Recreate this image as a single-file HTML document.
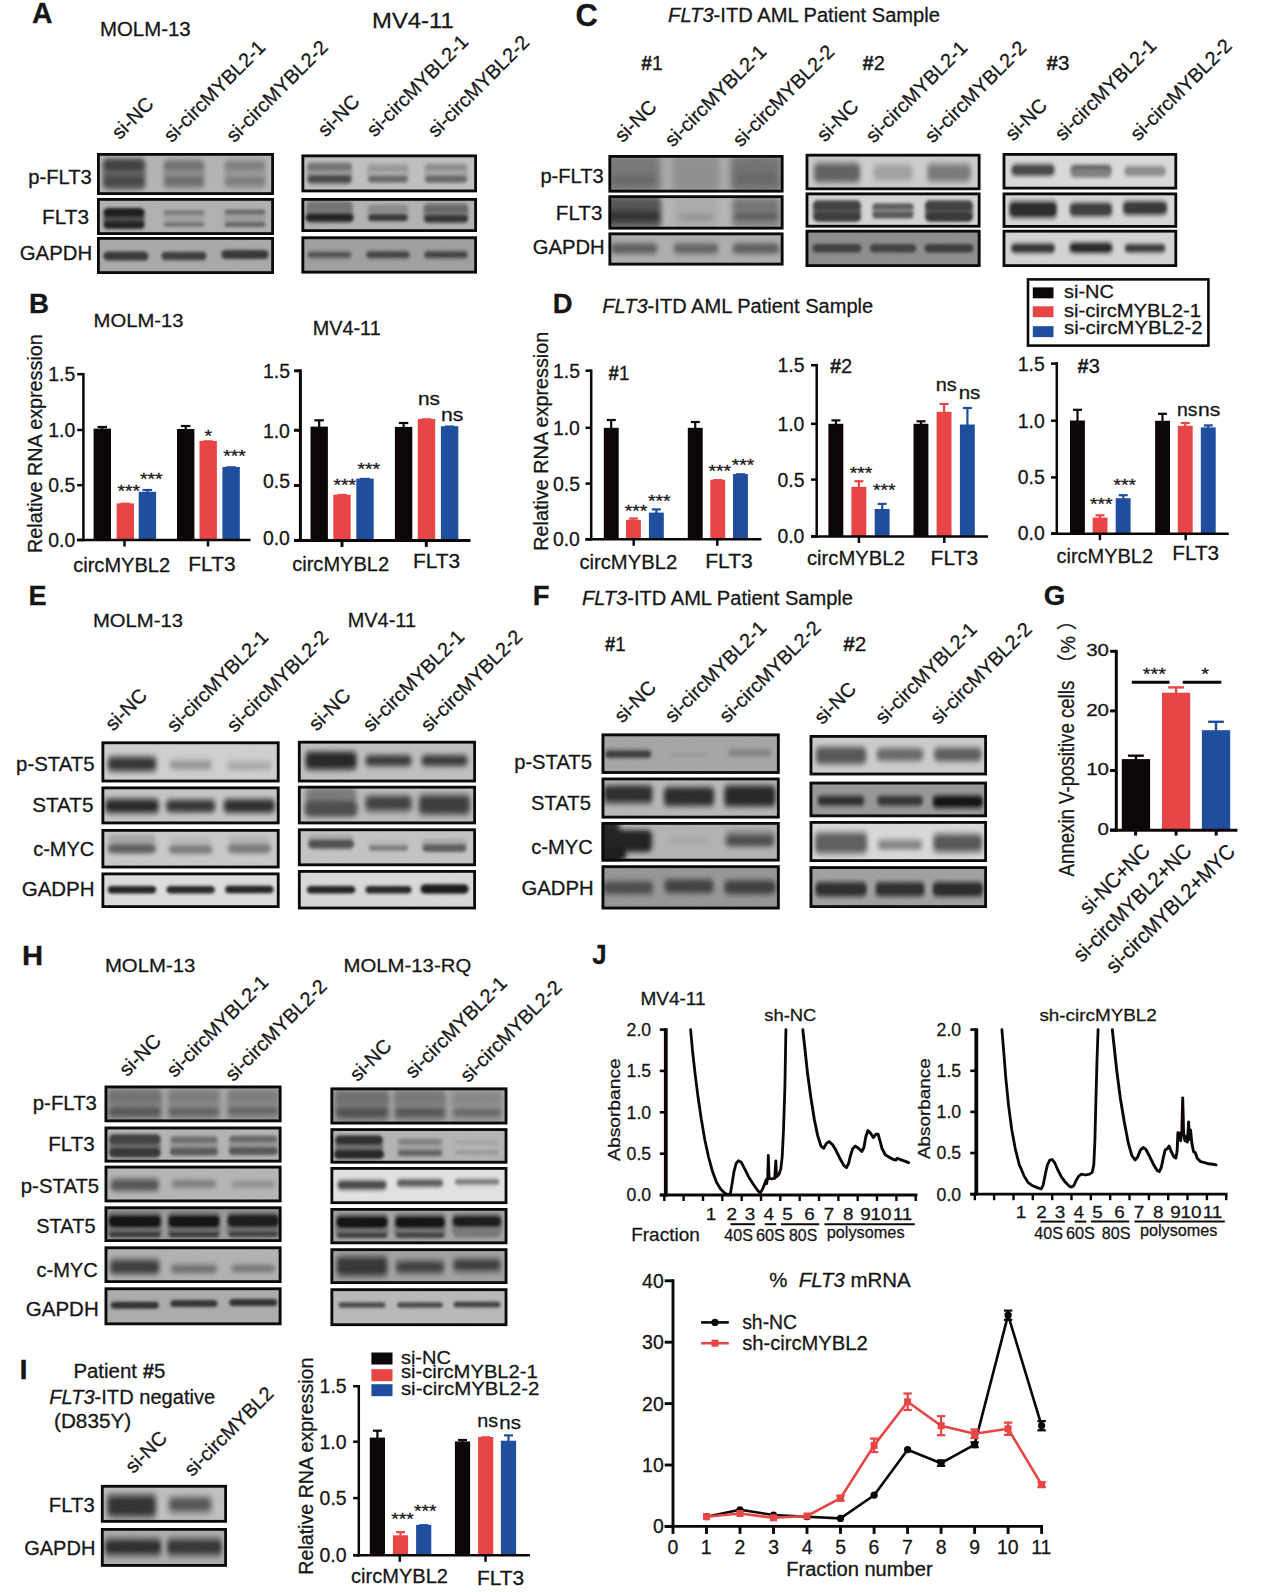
<!DOCTYPE html>
<html lang="en"><head><meta charset="utf-8"><title>Figure</title>
<style>html,body{margin:0;padding:0;background:#fff}svg{display:block}text{stroke:#161616;stroke-width:.28px;stroke-linejoin:round}</style>
</head><body>
<svg width="1269" height="1592" viewBox="0 0 1269 1592" font-family="'Liberation Sans', sans-serif" fill="#161616">
<defs>
<filter id="b1" x="-20%" y="-50%" width="140%" height="200%"><feGaussianBlur stdDeviation="1"/></filter>
<filter id="b1_3" x="-20%" y="-50%" width="140%" height="200%"><feGaussianBlur stdDeviation="1.3"/></filter>
<filter id="b1_6" x="-20%" y="-50%" width="140%" height="200%"><feGaussianBlur stdDeviation="1.6"/></filter>
<filter id="b2" x="-20%" y="-50%" width="140%" height="200%"><feGaussianBlur stdDeviation="2"/></filter>
<filter id="b2_5" x="-20%" y="-50%" width="140%" height="200%"><feGaussianBlur stdDeviation="2.5"/></filter>
<filter id="b3" x="-20%" y="-50%" width="140%" height="200%"><feGaussianBlur stdDeviation="3"/></filter>
<filter id="nz" x="0" y="0" width="100%" height="100%"><feTurbulence type="fractalNoise" baseFrequency="0.9" numOctaves="2" seed="3"/><feColorMatrix type="saturate" values="0"/></filter>
<filter id="soft" x="-5%" y="-5%" width="110%" height="110%"><feGaussianBlur stdDeviation="0.35"/></filter>
</defs>
<rect width="1269" height="1592" fill="#ffffff"/>
<text x="32.1" y="23.3" font-size="28.8" font-weight="bold" textLength="20.5" lengthAdjust="spacingAndGlyphs">A</text>
<text x="100.0" y="35.5" font-size="19.3" textLength="90.7" lengthAdjust="spacingAndGlyphs">MOLM-13</text>
<text x="372.1" y="28.4" font-size="22" textLength="81.7" lengthAdjust="spacingAndGlyphs">MV4-11</text>
<text transform="translate(119.8 140.2) rotate(-45)" font-size="19.8">si-NC</text>
<text transform="translate(171.8 143.2) rotate(-45)" font-size="19.8">si-circMYBL2-1</text>
<text transform="translate(234.3 143.2) rotate(-45)" font-size="19.8">si-circMYBL2-2</text>
<text transform="translate(325.8 137.7) rotate(-45)" font-size="19.8">si-NC</text>
<text transform="translate(374.8 137.7) rotate(-45)" font-size="19.8">si-circMYBL2-1</text>
<text transform="translate(435.8 138.2) rotate(-45)" font-size="19.8">si-circMYBL2-2</text>
<text x="28.3" y="184.4" font-size="19.8" textLength="63.5" lengthAdjust="spacingAndGlyphs">p-FLT3</text>
<text x="42.0" y="223.6" font-size="19.8" textLength="47.0" lengthAdjust="spacingAndGlyphs">FLT3</text>
<text x="19.8" y="260.0" font-size="19.8" textLength="72.3" lengthAdjust="spacingAndGlyphs">GAPDH</text>
<clipPath id="c1"><rect x="97.0" y="153.0" width="177.0" height="42.0"/></clipPath>
<rect x="97.0" y="153.0" width="177.0" height="42.0" fill="#b4b4b4"/>
<g clip-path="url(#c1)"><g filter="url(#b2)">
<rect x="102.5" y="158.0" width="43.1" height="32.0" rx="5.0" fill="#5f5f5f"/>
<rect x="103.5" y="160.0" width="41.0" height="11.0" rx="5.0" fill="#3e3e3e"/>
<rect x="103.5" y="176.0" width="41.0" height="10.0" rx="5.0" fill="#424242"/>
<rect x="163.5" y="159.0" width="41.0" height="30.0" rx="5.0" fill="#8c8c8c"/>
<rect x="163.5" y="161.5" width="41.0" height="9.0" rx="4.5" fill="#707070"/>
<rect x="163.5" y="176.5" width="41.0" height="9.0" rx="4.5" fill="#696969"/>
<rect x="224.5" y="159.0" width="41.0" height="30.0" rx="5.0" fill="#969696"/>
<rect x="224.5" y="162.0" width="41.0" height="8.0" rx="4.0" fill="#7d7d7d"/>
<rect x="224.5" y="177.0" width="41.0" height="8.0" rx="4.0" fill="#7a7a7a"/>
</g>
<rect x="97.0" y="153.0" width="177.0" height="42.0" filter="url(#nz)" opacity="0.10"/>
</g>
<rect x="98.4" y="154.4" width="174.2" height="39.2" fill="none" stroke="#0a0a0a" stroke-width="2.8"/>
<clipPath id="c2"><rect x="97.0" y="198.0" width="177.0" height="37.0"/></clipPath>
<rect x="97.0" y="198.0" width="177.0" height="37.0" fill="#b0b0b0"/>
<g clip-path="url(#c2)"><g filter="url(#b1_6)">
<rect x="103.5" y="208.0" width="41.0" height="20.0" rx="5.0" fill="#464646"/>
<rect x="103.5" y="208.0" width="41.0" height="9.0" rx="4.5" fill="#161616"/>
<rect x="103.5" y="221.0" width="41.0" height="8.0" rx="4.0" fill="#1c1c1c"/>
<rect x="163.5" y="211.0" width="41.0" height="14.0" rx="5.0" fill="#a0a0a0"/>
<rect x="163.5" y="210.2" width="41.0" height="4.5" rx="2.2" fill="#767676"/>
<rect x="163.5" y="222.2" width="41.0" height="4.5" rx="2.2" fill="#707070"/>
<rect x="224.5" y="211.0" width="41.0" height="14.0" rx="5.0" fill="#9b9b9b"/>
<rect x="224.5" y="209.5" width="41.0" height="5.0" rx="2.5" fill="#666666"/>
<rect x="224.5" y="222.0" width="41.0" height="5.0" rx="2.5" fill="#626262"/>
</g>
<rect x="97.0" y="198.0" width="177.0" height="37.0" filter="url(#nz)" opacity="0.10"/>
</g>
<rect x="98.4" y="199.4" width="174.2" height="34.2" fill="none" stroke="#0a0a0a" stroke-width="2.8"/>
<clipPath id="c3"><rect x="97.0" y="237.0" width="177.0" height="37.0"/></clipPath>
<rect x="97.0" y="237.0" width="177.0" height="37.0" fill="#a8a8a8"/>
<g clip-path="url(#c3)"><g filter="url(#b1_6)">
<rect x="103.4" y="251.5" width="45.1" height="9.0" rx="4.5" fill="#343434"/>
<rect x="161.4" y="251.8" width="45.1" height="8.5" rx="4.2" fill="#3a3a3a"/>
<rect x="221.3" y="250.0" width="47.3" height="9.0" rx="4.5" fill="#303030"/>
</g>
<rect x="97.0" y="237.0" width="177.0" height="37.0" filter="url(#nz)" opacity="0.10"/>
</g>
<rect x="98.4" y="238.4" width="174.2" height="34.2" fill="none" stroke="#0a0a0a" stroke-width="2.8"/>
<clipPath id="c4"><rect x="301.5" y="154.5" width="175.5" height="37.8"/></clipPath>
<rect x="301.5" y="154.5" width="175.5" height="37.8" fill="#c0c0c0"/>
<g clip-path="url(#c4)"><g filter="url(#b1_6)">
<rect x="306.6" y="161.5" width="45.8" height="24.0" rx="5.0" fill="#969696"/>
<rect x="307.5" y="175.0" width="44.0" height="8.0" rx="4.0" fill="#444444"/>
<rect x="307.5" y="163.8" width="44.0" height="6.5" rx="3.2" fill="#707070"/>
<rect x="366.9" y="163.0" width="42.2" height="21.0" rx="5.0" fill="#acacac"/>
<rect x="368.2" y="175.5" width="39.6" height="7.0" rx="3.5" fill="#666666"/>
<rect x="368.2" y="165.8" width="39.6" height="5.5" rx="2.8" fill="#969696"/>
<rect x="424.0" y="163.0" width="44.0" height="21.0" rx="5.0" fill="#a6a6a6"/>
<rect x="425.1" y="175.5" width="41.8" height="7.0" rx="3.5" fill="#666666"/>
<rect x="425.1" y="164.8" width="41.8" height="5.5" rx="2.8" fill="#8c8c8c"/>
</g>
<rect x="301.5" y="154.5" width="175.5" height="37.8" filter="url(#nz)" opacity="0.10"/>
</g>
<rect x="302.9" y="155.9" width="172.7" height="35.0" fill="none" stroke="#0a0a0a" stroke-width="2.8"/>
<clipPath id="c5"><rect x="301.5" y="198.0" width="175.5" height="34.0"/></clipPath>
<rect x="301.5" y="198.0" width="175.5" height="34.0" fill="#b2b2b2"/>
<g clip-path="url(#c5)"><g filter="url(#b1_6)">
<rect x="306.2" y="200.5" width="46.6" height="23.0" rx="5.0" fill="#7a7a7a"/>
<rect x="305.3" y="213.0" width="48.4" height="9.0" rx="4.5" fill="#1e1e1e"/>
<rect x="307.5" y="203.5" width="44.0" height="8.0" rx="4.0" fill="#707070"/>
<rect x="367.3" y="204.0" width="41.4" height="18.0" rx="5.0" fill="#989898"/>
<rect x="368.2" y="213.8" width="39.6" height="7.5" rx="3.8" fill="#323232"/>
<rect x="368.2" y="205.5" width="39.6" height="6.0" rx="3.0" fill="#8a8a8a"/>
<rect x="423.3" y="202.5" width="45.3" height="21.0" rx="5.0" fill="#808080"/>
<rect x="424.0" y="214.5" width="44.0" height="8.0" rx="4.0" fill="#2e2e2e"/>
<rect x="424.0" y="205.5" width="44.0" height="7.0" rx="3.5" fill="#646464"/>
</g>
<rect x="301.5" y="198.0" width="175.5" height="34.0" filter="url(#nz)" opacity="0.10"/>
</g>
<rect x="302.9" y="199.4" width="172.7" height="31.2" fill="none" stroke="#0a0a0a" stroke-width="2.8"/>
<clipPath id="c6"><rect x="301.5" y="236.4" width="175.5" height="37.1"/></clipPath>
<rect x="301.5" y="236.4" width="175.5" height="37.1" fill="#a0a0a0"/>
<g clip-path="url(#c6)"><g filter="url(#b1_6)">
<rect x="307.1" y="249.2" width="44.9" height="11.0" rx="5.0" fill="#8a8a8a"/>
<rect x="307.9" y="252.0" width="43.1" height="5.5" rx="2.8" fill="#4e4e4e"/>
<rect x="365.6" y="249.2" width="44.9" height="11.0" rx="5.0" fill="#868686"/>
<rect x="366.4" y="251.5" width="43.1" height="6.5" rx="3.2" fill="#3e3e3e"/>
<rect x="423.6" y="249.2" width="44.9" height="11.0" rx="5.0" fill="#868686"/>
<rect x="424.4" y="251.5" width="43.1" height="6.5" rx="3.2" fill="#3e3e3e"/>
</g>
<rect x="301.5" y="236.4" width="175.5" height="37.1" filter="url(#nz)" opacity="0.10"/>
</g>
<rect x="302.9" y="237.8" width="172.7" height="34.3" fill="none" stroke="#0a0a0a" stroke-width="2.8"/>
<text x="575.6" y="25.5" font-size="31" font-weight="bold" textLength="22.3" lengthAdjust="spacingAndGlyphs">C</text>
<text x="668.1" y="22.0" font-size="19.6" textLength="271.9" lengthAdjust="spacingAndGlyphs"><tspan font-style="italic">FLT3</tspan>-ITD AML Patient Sample</text>
<text x="641.3" y="70.0" font-size="19.3" textLength="21.4" lengthAdjust="spacingAndGlyphs"><tspan font-weight="bold">#</tspan>1</text>
<text x="862.6" y="70.0" font-size="19.3" textLength="22.4" lengthAdjust="spacingAndGlyphs"><tspan font-weight="bold">#</tspan>2</text>
<text x="1046.5" y="70.0" font-size="19.3" textLength="22.9" lengthAdjust="spacingAndGlyphs"><tspan font-weight="bold">#</tspan>3</text>
<text transform="translate(622.8 143.2) rotate(-45)" font-size="19.8">si-NC</text>
<text transform="translate(672.8 147.7) rotate(-45)" font-size="19.8">si-circMYBL2-1</text>
<text transform="translate(740.8 147.7) rotate(-45)" font-size="19.8">si-circMYBL2-2</text>
<text transform="translate(824.8 142.7) rotate(-45)" font-size="19.8">si-NC</text>
<text transform="translate(873.8 143.7) rotate(-45)" font-size="19.8">si-circMYBL2-1</text>
<text transform="translate(932.8 143.7) rotate(-45)" font-size="19.8">si-circMYBL2-2</text>
<text transform="translate(1013.3 141.7) rotate(-45)" font-size="19.8">si-NC</text>
<text transform="translate(1062.8 141.7) rotate(-45)" font-size="19.8">si-circMYBL2-1</text>
<text transform="translate(1138.3 141.7) rotate(-45)" font-size="19.8">si-circMYBL2-2</text>
<text x="540.4" y="182.8" font-size="19.8" textLength="63.4" lengthAdjust="spacingAndGlyphs">p-FLT3</text>
<text x="555.8" y="220.0" font-size="19.8" textLength="46.6" lengthAdjust="spacingAndGlyphs">FLT3</text>
<text x="532.7" y="253.7" font-size="19.8" textLength="71.9" lengthAdjust="spacingAndGlyphs">GAPDH</text>
<clipPath id="c7"><rect x="608.5" y="155.0" width="175.0" height="37.5"/></clipPath>
<rect x="608.5" y="155.0" width="175.0" height="37.5" fill="#aaaaaa"/>
<g clip-path="url(#c7)"><g filter="url(#b3)">
<rect x="607.6" y="156.0" width="52.8" height="36.0" rx="5.0" fill="#747474"/>
<rect x="612.0" y="175.5" width="44.0" height="9.0" rx="4.5" fill="#626262"/>
<rect x="672.9" y="156.0" width="46.2" height="36.0" rx="5.0" fill="#8e8e8e"/>
<rect x="730.7" y="156.0" width="50.6" height="36.0" rx="5.0" fill="#707070"/>
<rect x="734.0" y="173.5" width="44.0" height="9.0" rx="4.5" fill="#626262"/>
</g>
<rect x="608.5" y="155.0" width="175.0" height="37.5" filter="url(#nz)" opacity="0.10"/>
</g>
<rect x="609.9" y="156.4" width="172.2" height="34.7" fill="none" stroke="#0a0a0a" stroke-width="2.8"/>
<clipPath id="c8"><rect x="608.5" y="195.3" width="175.0" height="34.2"/></clipPath>
<rect x="608.5" y="195.3" width="175.0" height="34.2" fill="#b6b6b6"/>
<g clip-path="url(#c8)"><g filter="url(#b2_5)">
<rect x="606.5" y="196.3" width="55.0" height="32.0" rx="5.0" fill="#5c5c5c"/>
<rect x="607.6" y="210.3" width="52.8" height="12.0" rx="5.0" fill="#2e2e2e"/>
<rect x="608.7" y="201.3" width="50.6" height="8.0" rx="4.0" fill="#505050"/>
<rect x="674.0" y="198.3" width="44.0" height="28.0" rx="5.0" fill="#aaaaaa"/>
<rect x="678.4" y="214.8" width="35.2" height="5.0" rx="2.5" fill="#8e8e8e"/>
<rect x="731.8" y="197.3" width="48.4" height="30.0" rx="5.0" fill="#808080"/>
<rect x="734.0" y="212.8" width="44.0" height="7.0" rx="3.5" fill="#545454"/>
<rect x="734.0" y="202.8" width="44.0" height="7.0" rx="3.5" fill="#6e6e6e"/>
</g>
<rect x="608.5" y="195.3" width="175.0" height="34.2" filter="url(#nz)" opacity="0.10"/>
</g>
<rect x="609.9" y="196.7" width="172.2" height="31.4" fill="none" stroke="#0a0a0a" stroke-width="2.8"/>
<clipPath id="c9"><rect x="608.5" y="232.5" width="175.0" height="33.0"/></clipPath>
<rect x="608.5" y="232.5" width="175.0" height="33.0" fill="#aeaeae"/>
<g clip-path="url(#c9)"><g filter="url(#b2)">
<rect x="609.8" y="241.0" width="48.4" height="15.0" rx="5.0" fill="#919191"/>
<rect x="610.9" y="244.0" width="46.2" height="9.0" rx="4.5" fill="#5c5c5c"/>
<rect x="672.9" y="241.0" width="46.2" height="15.0" rx="5.0" fill="#949494"/>
<rect x="674.0" y="244.0" width="44.0" height="9.0" rx="4.5" fill="#626262"/>
<rect x="731.8" y="241.0" width="48.4" height="15.0" rx="5.0" fill="#919191"/>
<rect x="732.9" y="244.0" width="46.2" height="9.0" rx="4.5" fill="#5c5c5c"/>
</g>
<rect x="608.5" y="232.5" width="175.0" height="33.0" filter="url(#nz)" opacity="0.10"/>
</g>
<rect x="609.9" y="233.9" width="172.2" height="30.2" fill="none" stroke="#0a0a0a" stroke-width="2.8"/>
<clipPath id="c10"><rect x="805.6" y="153.8" width="174.9" height="36.4"/></clipPath>
<rect x="805.6" y="153.8" width="174.9" height="36.4" fill="#cecece"/>
<g clip-path="url(#c10)"><g filter="url(#b2)">
<rect x="813.4" y="160.3" width="47.3" height="25.0" rx="5.0" fill="#a0a0a0"/>
<rect x="814.2" y="164.3" width="45.6" height="17.0" rx="5.0" fill="#5f5f5f"/>
<rect x="872.6" y="162.3" width="40.9" height="21.0" rx="5.0" fill="#bebebe"/>
<rect x="873.6" y="165.8" width="38.7" height="14.0" rx="5.0" fill="#a0a0a0"/>
<rect x="926.4" y="161.3" width="45.1" height="23.0" rx="5.0" fill="#aaaaaa"/>
<rect x="927.5" y="165.3" width="43.0" height="15.0" rx="5.0" fill="#787878"/>
</g>
<rect x="805.6" y="153.8" width="174.9" height="36.4" filter="url(#nz)" opacity="0.10"/>
</g>
<rect x="807.0" y="155.2" width="172.1" height="33.6" fill="none" stroke="#0a0a0a" stroke-width="2.8"/>
<clipPath id="c11"><rect x="805.6" y="192.5" width="174.9" height="35.1"/></clipPath>
<rect x="805.6" y="192.5" width="174.9" height="35.1" fill="#d5d5d5"/>
<g clip-path="url(#c11)"><g filter="url(#b1_6)">
<rect x="812.9" y="200.0" width="48.2" height="22.0" rx="5.0" fill="#606060"/>
<rect x="813.4" y="211.8" width="47.3" height="9.5" rx="4.8" fill="#373737"/>
<rect x="813.4" y="201.5" width="47.3" height="9.0" rx="4.5" fill="#3c3c3c"/>
<rect x="871.9" y="203.0" width="42.1" height="15.0" rx="5.0" fill="#969696"/>
<rect x="872.6" y="211.5" width="40.9" height="7.0" rx="3.5" fill="#555555"/>
<rect x="872.6" y="203.5" width="40.9" height="6.0" rx="3.0" fill="#5a5a5a"/>
<rect x="924.9" y="200.0" width="48.2" height="22.0" rx="5.0" fill="#606060"/>
<rect x="925.4" y="211.8" width="47.3" height="9.5" rx="4.8" fill="#323232"/>
<rect x="925.4" y="201.5" width="47.3" height="9.0" rx="4.5" fill="#3a3a3a"/>
</g>
<rect x="805.6" y="192.5" width="174.9" height="35.1" filter="url(#nz)" opacity="0.10"/>
</g>
<rect x="807.0" y="193.9" width="172.1" height="32.3" fill="none" stroke="#0a0a0a" stroke-width="2.8"/>
<clipPath id="c12"><rect x="805.6" y="229.8" width="174.9" height="37.2"/></clipPath>
<rect x="805.6" y="229.8" width="174.9" height="37.2" fill="#8c8c8c"/>
<g clip-path="url(#c12)"><g filter="url(#b1_6)">
<rect x="812.5" y="244.1" width="49.0" height="8.5" rx="4.2" fill="#3a3a3a"/>
<rect x="869.8" y="244.1" width="46.4" height="8.5" rx="4.2" fill="#3c3c3c"/>
<rect x="924.5" y="244.1" width="49.0" height="8.5" rx="4.2" fill="#383838"/>
</g>
<rect x="805.6" y="229.8" width="174.9" height="37.2" filter="url(#nz)" opacity="0.10"/>
</g>
<rect x="807.0" y="231.2" width="172.1" height="34.4" fill="none" stroke="#0a0a0a" stroke-width="2.8"/>
<clipPath id="c13"><rect x="1002.6" y="153.0" width="174.6" height="36.5"/></clipPath>
<rect x="1002.6" y="153.0" width="174.6" height="36.5" fill="#dbdbdb"/>
<g clip-path="url(#c13)"><g filter="url(#b1_6)">
<rect x="1010.6" y="162.0" width="44.7" height="16.0" rx="5.0" fill="#aaaaaa"/>
<rect x="1011.5" y="164.8" width="43.0" height="10.5" rx="5.0" fill="#444444"/>
<rect x="1069.5" y="163.0" width="43.0" height="16.0" rx="5.0" fill="#b9b9b9"/>
<rect x="1070.6" y="165.0" width="40.9" height="10.0" rx="5.0" fill="#626262"/>
<rect x="1071.7" y="169.0" width="38.7" height="8.0" rx="4.0" fill="#7d7d7d"/>
<rect x="1123.5" y="164.0" width="43.0" height="14.0" rx="5.0" fill="#c3c3c3"/>
<rect x="1124.6" y="166.5" width="40.9" height="9.0" rx="4.5" fill="#8c8c8c"/>
</g>
<rect x="1002.6" y="153.0" width="174.6" height="36.5" filter="url(#nz)" opacity="0.10"/>
</g>
<rect x="1004.0" y="154.4" width="171.8" height="33.7" fill="none" stroke="#0a0a0a" stroke-width="2.8"/>
<clipPath id="c14"><rect x="1002.6" y="192.5" width="174.6" height="35.3"/></clipPath>
<rect x="1002.6" y="192.5" width="174.6" height="35.3" fill="#d8d8d8"/>
<g clip-path="url(#c14)"><g filter="url(#b1_6)">
<rect x="1008.5" y="199.0" width="49.0" height="21.0" rx="5.0" fill="#969696"/>
<rect x="1009.4" y="202.0" width="47.3" height="15.0" rx="5.0" fill="#262626"/>
<rect x="1069.1" y="200.5" width="43.9" height="18.0" rx="5.0" fill="#a0a0a0"/>
<rect x="1069.9" y="203.2" width="42.1" height="12.5" rx="5.0" fill="#3a3a3a"/>
<rect x="1122.2" y="199.0" width="45.6" height="18.0" rx="5.0" fill="#a0a0a0"/>
<rect x="1123.1" y="201.8" width="43.9" height="12.5" rx="5.0" fill="#343434"/>
</g>
<rect x="1002.6" y="192.5" width="174.6" height="35.3" filter="url(#nz)" opacity="0.10"/>
</g>
<rect x="1004.0" y="193.9" width="171.8" height="32.5" fill="none" stroke="#0a0a0a" stroke-width="2.8"/>
<clipPath id="c15"><rect x="1002.6" y="229.8" width="174.6" height="37.2"/></clipPath>
<rect x="1002.6" y="229.8" width="174.6" height="37.2" fill="#d5d5d5"/>
<g clip-path="url(#c15)"><g filter="url(#b1_6)">
<rect x="1010.4" y="241.3" width="45.1" height="14.0" rx="5.0" fill="#aaaaaa"/>
<rect x="1011.1" y="243.8" width="43.9" height="9.0" rx="4.5" fill="#343434"/>
<rect x="1068.6" y="240.3" width="44.7" height="15.0" rx="5.0" fill="#a5a5a5"/>
<rect x="1069.5" y="242.8" width="43.0" height="10.0" rx="5.0" fill="#282828"/>
<rect x="1123.9" y="241.8" width="42.1" height="13.0" rx="5.0" fill="#afafaf"/>
<rect x="1124.8" y="244.3" width="40.4" height="8.0" rx="4.0" fill="#3a3a3a"/>
</g>
<rect x="1002.6" y="229.8" width="174.6" height="37.2" filter="url(#nz)" opacity="0.10"/>
</g>
<rect x="1004.0" y="231.2" width="171.8" height="34.4" fill="none" stroke="#0a0a0a" stroke-width="2.8"/>
<text x="29.1" y="312.5" font-size="27" font-weight="bold" textLength="20.0" lengthAdjust="spacingAndGlyphs">B</text>
<text x="93.6" y="327.0" font-size="19.2" textLength="90.0" lengthAdjust="spacingAndGlyphs">MOLM-13</text>
<text x="312.7" y="334.5" font-size="19.8" textLength="68.0" lengthAdjust="spacingAndGlyphs">MV4-11</text>
<text transform="translate(41.6 553.0) rotate(-90)" font-size="19.5" textLength="218.8" lengthAdjust="spacingAndGlyphs">Relative RNA expression</text>
<rect x="93.6" y="428.6" width="17.4" height="111.4" fill="#0c0706"/>
<line x1="102.3" y1="427.0" x2="102.3" y2="429.1" stroke="#0c0706" stroke-width="2.2"/>
<line x1="97.5" y1="427.0" x2="107.0" y2="427.0" stroke="#0c0706" stroke-width="2.2"/>
<rect x="116.6" y="503.4" width="17.4" height="36.6" fill="#e84646"/>
<line x1="120.5" y1="503.4" x2="130.1" y2="503.4" stroke="#e84646" stroke-width="1.6"/>
<rect x="138.7" y="491.8" width="17.4" height="48.2" fill="#1f4e9f"/>
<line x1="147.4" y1="490.0" x2="147.4" y2="492.3" stroke="#1f4e9f" stroke-width="2.2"/>
<line x1="142.6" y1="490.0" x2="152.1" y2="490.0" stroke="#1f4e9f" stroke-width="2.2"/>
<rect x="177.0" y="429.0" width="17.4" height="111.0" fill="#0c0706"/>
<line x1="185.7" y1="426.0" x2="185.7" y2="429.5" stroke="#0c0706" stroke-width="2.2"/>
<line x1="180.9" y1="426.0" x2="190.4" y2="426.0" stroke="#0c0706" stroke-width="2.2"/>
<rect x="199.5" y="441.0" width="17.4" height="99.0" fill="#e84646"/>
<line x1="203.4" y1="441.0" x2="212.9" y2="441.0" stroke="#e84646" stroke-width="1.6"/>
<rect x="222.4" y="467.0" width="17.4" height="73.0" fill="#1f4e9f"/>
<line x1="226.3" y1="467.0" x2="235.8" y2="467.0" stroke="#1f4e9f" stroke-width="1.6"/>
<line x1="83.4" y1="372.9" x2="83.4" y2="541.2" stroke="#0c0706" stroke-width="2.5"/>
<line x1="77.2" y1="540.0" x2="250.5" y2="540.0" stroke="#0c0706" stroke-width="2.5"/>
<line x1="77.2" y1="540.0" x2="83.4" y2="540.0" stroke="#0c0706" stroke-width="2.5"/>
<text x="48.2" y="546.9" font-size="19.4" textLength="27.0" lengthAdjust="spacingAndGlyphs">0.0</text>
<line x1="77.2" y1="485.2" x2="83.4" y2="485.2" stroke="#0c0706" stroke-width="2.5"/>
<text x="48.3" y="492.1" font-size="19.4" textLength="27.0" lengthAdjust="spacingAndGlyphs">0.5</text>
<line x1="77.2" y1="430.0" x2="83.4" y2="430.0" stroke="#0c0706" stroke-width="2.5"/>
<text x="48.2" y="436.9" font-size="19.4" textLength="27.0" lengthAdjust="spacingAndGlyphs">1.0</text>
<line x1="77.2" y1="374.2" x2="83.4" y2="374.2" stroke="#0c0706" stroke-width="2.5"/>
<text x="48.3" y="381.1" font-size="19.4" textLength="27.0" lengthAdjust="spacingAndGlyphs">1.5</text>
<line x1="124.5" y1="540.0" x2="124.5" y2="546.5" stroke="#0c0706" stroke-width="2.5"/>
<line x1="208.0" y1="540.0" x2="208.0" y2="546.5" stroke="#0c0706" stroke-width="2.5"/>
<text x="73.2" y="571.6" font-size="20.5" textLength="97.0" lengthAdjust="spacingAndGlyphs">circMYBL2</text>
<text x="188.3" y="571.2" font-size="20.5" textLength="47.3" lengthAdjust="spacingAndGlyphs">FLT3</text>
<text x="117.6" y="497.4" font-size="16.5" textLength="22.5" lengthAdjust="spacingAndGlyphs">***</text>
<text x="140.0" y="484.9" font-size="16.5" textLength="22.5" lengthAdjust="spacingAndGlyphs">***</text>
<text x="204.6" y="442.0" font-size="16.5" textLength="7.5" lengthAdjust="spacingAndGlyphs">*</text>
<text x="223.2" y="462.4" font-size="16.5" textLength="22.5" lengthAdjust="spacingAndGlyphs">***</text>
<rect x="310.5" y="426.6" width="17.4" height="113.8" fill="#0c0706"/>
<line x1="319.2" y1="420.3" x2="319.2" y2="427.1" stroke="#0c0706" stroke-width="2.2"/>
<line x1="314.4" y1="420.3" x2="323.9" y2="420.3" stroke="#0c0706" stroke-width="2.2"/>
<rect x="333.3" y="494.7" width="17.4" height="45.7" fill="#e84646"/>
<line x1="337.2" y1="494.7" x2="346.8" y2="494.7" stroke="#e84646" stroke-width="1.6"/>
<rect x="356.3" y="478.6" width="17.4" height="61.8" fill="#1f4e9f"/>
<line x1="360.2" y1="478.6" x2="369.8" y2="478.6" stroke="#1f4e9f" stroke-width="1.6"/>
<rect x="394.9" y="426.9" width="17.4" height="113.5" fill="#0c0706"/>
<line x1="403.6" y1="423.0" x2="403.6" y2="427.4" stroke="#0c0706" stroke-width="2.2"/>
<line x1="398.8" y1="423.0" x2="408.3" y2="423.0" stroke="#0c0706" stroke-width="2.2"/>
<rect x="417.8" y="419.0" width="17.4" height="121.4" fill="#e84646"/>
<line x1="421.8" y1="419.0" x2="431.2" y2="419.0" stroke="#e84646" stroke-width="1.6"/>
<rect x="440.9" y="426.2" width="17.4" height="114.2" fill="#1f4e9f"/>
<line x1="444.8" y1="426.2" x2="454.3" y2="426.2" stroke="#1f4e9f" stroke-width="1.6"/>
<line x1="300.4" y1="369.3" x2="300.4" y2="541.9" stroke="#0c0706" stroke-width="3"/>
<line x1="294.0" y1="540.4" x2="470.5" y2="540.4" stroke="#0c0706" stroke-width="3"/>
<line x1="294.0" y1="540.4" x2="300.4" y2="540.4" stroke="#0c0706" stroke-width="3"/>
<text x="262.9" y="544.9" font-size="19.4" textLength="27.0" lengthAdjust="spacingAndGlyphs">0.0</text>
<line x1="294.0" y1="485.5" x2="300.4" y2="485.5" stroke="#0c0706" stroke-width="3"/>
<text x="263.0" y="487.8" font-size="19.4" textLength="27.0" lengthAdjust="spacingAndGlyphs">0.5</text>
<line x1="294.0" y1="430.3" x2="300.4" y2="430.3" stroke="#0c0706" stroke-width="3"/>
<text x="262.9" y="437.6" font-size="19.4" textLength="27.0" lengthAdjust="spacingAndGlyphs">1.0</text>
<line x1="294.0" y1="370.8" x2="300.4" y2="370.8" stroke="#0c0706" stroke-width="3"/>
<text x="263.0" y="378.3" font-size="19.4" textLength="27.0" lengthAdjust="spacingAndGlyphs">1.5</text>
<line x1="342.0" y1="540.4" x2="342.0" y2="546.9" stroke="#0c0706" stroke-width="3"/>
<line x1="426.3" y1="540.4" x2="426.3" y2="546.9" stroke="#0c0706" stroke-width="3"/>
<text x="292.2" y="571.2" font-size="20.5" textLength="97.0" lengthAdjust="spacingAndGlyphs">circMYBL2</text>
<text x="413.0" y="568.0" font-size="20.5" textLength="47.2" lengthAdjust="spacingAndGlyphs">FLT3</text>
<text x="333.5" y="491.2" font-size="16.5" textLength="22.5" lengthAdjust="spacingAndGlyphs">***</text>
<text x="357.5" y="474.8" font-size="16.5" textLength="22.5" lengthAdjust="spacingAndGlyphs">***</text>
<text x="418.0" y="404.8" font-size="19" textLength="22.0" lengthAdjust="spacingAndGlyphs">ns</text>
<text x="441.0" y="420.5" font-size="19" textLength="22.3" lengthAdjust="spacingAndGlyphs">ns</text>
<text x="552.8" y="312.5" font-size="27" font-weight="bold" textLength="19.8" lengthAdjust="spacingAndGlyphs">D</text>
<text x="602.3" y="312.7" font-size="19.5" textLength="270.9" lengthAdjust="spacingAndGlyphs"><tspan font-style="italic">FLT3</tspan>-ITD AML Patient Sample</text>
<text transform="translate(547.6 550.7) rotate(-90)" font-size="19.3" textLength="218.9" lengthAdjust="spacingAndGlyphs">Relative RNA expression</text>
<rect x="1028.0" y="279.4" width="180.4" height="66.2" fill="#ffffff" stroke="#0a0a0a" stroke-width="2.6"/>
<rect x="1032.8" y="287.4" width="20.7" height="10.9" fill="#0c0706"/>
<text x="1064.0" y="297.7" font-size="18.3" textLength="49.8" lengthAdjust="spacingAndGlyphs">si-NC</text>
<rect x="1032.8" y="306.3" width="20.7" height="10.9" fill="#e84646"/>
<text x="1064.0" y="316.9" font-size="18.3" textLength="137.0" lengthAdjust="spacingAndGlyphs">si-circMYBL2-1</text>
<rect x="1032.8" y="326.2" width="20.7" height="10.9" fill="#1f4e9f"/>
<text x="1064.0" y="334.4" font-size="18.3" textLength="138.6" lengthAdjust="spacingAndGlyphs">si-circMYBL2-2</text>
<rect x="603.8" y="427.8" width="14.9" height="111.5" fill="#0c0706"/>
<line x1="611.2" y1="420.0" x2="611.2" y2="428.3" stroke="#0c0706" stroke-width="2.2"/>
<line x1="606.8" y1="420.0" x2="615.8" y2="420.0" stroke="#0c0706" stroke-width="2.2"/>
<rect x="626.0" y="519.8" width="14.9" height="19.5" fill="#e84646"/>
<line x1="633.5" y1="518.5" x2="633.5" y2="520.3" stroke="#e84646" stroke-width="2.2"/>
<line x1="629.0" y1="518.5" x2="638.0" y2="518.5" stroke="#e84646" stroke-width="2.2"/>
<rect x="648.9" y="512.6" width="14.9" height="26.7" fill="#1f4e9f"/>
<line x1="656.4" y1="509.4" x2="656.4" y2="513.1" stroke="#1f4e9f" stroke-width="2.2"/>
<line x1="651.9" y1="509.4" x2="660.9" y2="509.4" stroke="#1f4e9f" stroke-width="2.2"/>
<rect x="687.8" y="427.8" width="14.9" height="111.5" fill="#0c0706"/>
<line x1="695.2" y1="422.0" x2="695.2" y2="428.3" stroke="#0c0706" stroke-width="2.2"/>
<line x1="690.8" y1="422.0" x2="699.8" y2="422.0" stroke="#0c0706" stroke-width="2.2"/>
<rect x="710.3" y="479.8" width="14.9" height="59.5" fill="#e84646"/>
<line x1="713.2" y1="479.8" x2="722.2" y2="479.8" stroke="#e84646" stroke-width="1.6"/>
<rect x="733.0" y="474.0" width="14.9" height="65.3" fill="#1f4e9f"/>
<line x1="736.0" y1="474.0" x2="745.0" y2="474.0" stroke="#1f4e9f" stroke-width="1.6"/>
<line x1="591.2" y1="369.4" x2="591.2" y2="540.5" stroke="#0c0706" stroke-width="2.5"/>
<line x1="585.5" y1="539.3" x2="761.5" y2="539.3" stroke="#0c0706" stroke-width="2.5"/>
<line x1="585.5" y1="539.5" x2="591.2" y2="539.5" stroke="#0c0706" stroke-width="2.5"/>
<text x="552.9" y="546.4" font-size="19.4" textLength="27.0" lengthAdjust="spacingAndGlyphs">0.0</text>
<line x1="585.5" y1="483.6" x2="591.2" y2="483.6" stroke="#0c0706" stroke-width="2.5"/>
<text x="553.0" y="490.5" font-size="19.4" textLength="27.0" lengthAdjust="spacingAndGlyphs">0.5</text>
<line x1="585.5" y1="427.8" x2="591.2" y2="427.8" stroke="#0c0706" stroke-width="2.5"/>
<text x="552.9" y="434.7" font-size="19.4" textLength="27.0" lengthAdjust="spacingAndGlyphs">1.0</text>
<line x1="585.5" y1="370.7" x2="591.2" y2="370.7" stroke="#0c0706" stroke-width="2.5"/>
<text x="553.0" y="377.6" font-size="19.4" textLength="27.0" lengthAdjust="spacingAndGlyphs">1.5</text>
<line x1="633.7" y1="539.3" x2="633.7" y2="545.8" stroke="#0c0706" stroke-width="2.5"/>
<line x1="717.3" y1="539.3" x2="717.3" y2="545.8" stroke="#0c0706" stroke-width="2.5"/>
<text x="608.5" y="379.6" font-size="19.3" textLength="20.8" lengthAdjust="spacingAndGlyphs"><tspan font-weight="bold">#</tspan>1</text>
<text x="579.4" y="568.7" font-size="20.5" textLength="97.8" lengthAdjust="spacingAndGlyphs">circMYBL2</text>
<text x="705.2" y="568.2" font-size="20.5" textLength="47.6" lengthAdjust="spacingAndGlyphs">FLT3</text>
<text x="624.8" y="517.0" font-size="16.5" textLength="22.5" lengthAdjust="spacingAndGlyphs">***</text>
<text x="648.0" y="507.0" font-size="16.5" textLength="22.5" lengthAdjust="spacingAndGlyphs">***</text>
<text x="708.5" y="476.7" font-size="16.5" textLength="22.5" lengthAdjust="spacingAndGlyphs">***</text>
<text x="731.7" y="471.4" font-size="16.5" textLength="22.5" lengthAdjust="spacingAndGlyphs">***</text>
<rect x="828.4" y="423.8" width="14.9" height="112.7" fill="#0c0706"/>
<line x1="835.9" y1="420.4" x2="835.9" y2="424.3" stroke="#0c0706" stroke-width="2.2"/>
<line x1="831.4" y1="420.4" x2="840.4" y2="420.4" stroke="#0c0706" stroke-width="2.2"/>
<rect x="851.4" y="486.9" width="14.9" height="49.6" fill="#e84646"/>
<line x1="858.9" y1="481.2" x2="858.9" y2="487.4" stroke="#e84646" stroke-width="2.2"/>
<line x1="854.4" y1="481.2" x2="863.4" y2="481.2" stroke="#e84646" stroke-width="2.2"/>
<rect x="874.7" y="509.0" width="14.9" height="27.5" fill="#1f4e9f"/>
<line x1="882.2" y1="503.9" x2="882.2" y2="509.5" stroke="#1f4e9f" stroke-width="2.2"/>
<line x1="877.7" y1="503.9" x2="886.7" y2="503.9" stroke="#1f4e9f" stroke-width="2.2"/>
<rect x="913.5" y="423.8" width="14.9" height="112.7" fill="#0c0706"/>
<line x1="921.0" y1="421.3" x2="921.0" y2="424.3" stroke="#0c0706" stroke-width="2.2"/>
<line x1="916.5" y1="421.3" x2="925.5" y2="421.3" stroke="#0c0706" stroke-width="2.2"/>
<rect x="936.6" y="411.8" width="14.9" height="124.7" fill="#e84646"/>
<line x1="944.1" y1="404.0" x2="944.1" y2="412.3" stroke="#e84646" stroke-width="2.2"/>
<line x1="939.6" y1="404.0" x2="948.6" y2="404.0" stroke="#e84646" stroke-width="2.2"/>
<rect x="959.9" y="424.5" width="14.9" height="112.0" fill="#1f4e9f"/>
<line x1="967.4" y1="408.0" x2="967.4" y2="425.0" stroke="#1f4e9f" stroke-width="2.2"/>
<line x1="962.9" y1="408.0" x2="971.9" y2="408.0" stroke="#1f4e9f" stroke-width="2.2"/>
<line x1="816.7" y1="363.9" x2="816.7" y2="537.8" stroke="#0c0706" stroke-width="2.5"/>
<line x1="811.0" y1="536.5" x2="988.0" y2="536.5" stroke="#0c0706" stroke-width="2.5"/>
<line x1="811.0" y1="536.4" x2="816.7" y2="536.4" stroke="#0c0706" stroke-width="2.5"/>
<text x="777.4" y="543.3" font-size="19.4" textLength="27.0" lengthAdjust="spacingAndGlyphs">0.0</text>
<line x1="811.0" y1="479.6" x2="816.7" y2="479.6" stroke="#0c0706" stroke-width="2.5"/>
<text x="777.5" y="486.5" font-size="19.4" textLength="27.0" lengthAdjust="spacingAndGlyphs">0.5</text>
<line x1="811.0" y1="423.8" x2="816.7" y2="423.8" stroke="#0c0706" stroke-width="2.5"/>
<text x="777.4" y="430.7" font-size="19.4" textLength="27.0" lengthAdjust="spacingAndGlyphs">1.0</text>
<line x1="811.0" y1="365.2" x2="816.7" y2="365.2" stroke="#0c0706" stroke-width="2.5"/>
<text x="777.5" y="372.1" font-size="19.4" textLength="27.0" lengthAdjust="spacingAndGlyphs">1.5</text>
<line x1="858.9" y1="536.5" x2="858.9" y2="543.0" stroke="#0c0706" stroke-width="2.5"/>
<line x1="944.3" y1="536.5" x2="944.3" y2="543.0" stroke="#0c0706" stroke-width="2.5"/>
<text x="829.9" y="373.0" font-size="19.3" textLength="22.4" lengthAdjust="spacingAndGlyphs"><tspan font-weight="bold">#</tspan>2</text>
<text x="807.0" y="564.7" font-size="20.5" textLength="97.9" lengthAdjust="spacingAndGlyphs">circMYBL2</text>
<text x="930.6" y="564.7" font-size="20.5" textLength="47.6" lengthAdjust="spacingAndGlyphs">FLT3</text>
<text x="849.8" y="479.4" font-size="16.5" textLength="22.5" lengthAdjust="spacingAndGlyphs">***</text>
<text x="872.9" y="496.4" font-size="16.5" textLength="22.5" lengthAdjust="spacingAndGlyphs">***</text>
<text x="935.7" y="390.7" font-size="19" textLength="21.0" lengthAdjust="spacingAndGlyphs">ns</text>
<text x="958.7" y="398.6" font-size="19" textLength="21.7" lengthAdjust="spacingAndGlyphs">ns</text>
<rect x="1070.0" y="420.5" width="14.9" height="113.2" fill="#0c0706"/>
<line x1="1077.5" y1="409.8" x2="1077.5" y2="421.0" stroke="#0c0706" stroke-width="2.2"/>
<line x1="1073.0" y1="409.8" x2="1082.0" y2="409.8" stroke="#0c0706" stroke-width="2.2"/>
<rect x="1092.6" y="517.6" width="14.9" height="16.1" fill="#e84646"/>
<line x1="1100.0" y1="515.3" x2="1100.0" y2="518.1" stroke="#e84646" stroke-width="2.2"/>
<line x1="1095.5" y1="515.3" x2="1104.5" y2="515.3" stroke="#e84646" stroke-width="2.2"/>
<rect x="1115.7" y="498.2" width="14.9" height="35.5" fill="#1f4e9f"/>
<line x1="1123.2" y1="495.2" x2="1123.2" y2="498.7" stroke="#1f4e9f" stroke-width="2.2"/>
<line x1="1118.7" y1="495.2" x2="1127.7" y2="495.2" stroke="#1f4e9f" stroke-width="2.2"/>
<rect x="1155.1" y="420.8" width="14.9" height="112.9" fill="#0c0706"/>
<line x1="1162.5" y1="413.8" x2="1162.5" y2="421.3" stroke="#0c0706" stroke-width="2.2"/>
<line x1="1158.0" y1="413.8" x2="1167.0" y2="413.8" stroke="#0c0706" stroke-width="2.2"/>
<rect x="1177.8" y="425.8" width="14.9" height="107.9" fill="#e84646"/>
<line x1="1185.2" y1="423.0" x2="1185.2" y2="426.3" stroke="#e84646" stroke-width="2.2"/>
<line x1="1180.8" y1="423.0" x2="1189.8" y2="423.0" stroke="#e84646" stroke-width="2.2"/>
<rect x="1200.8" y="427.4" width="14.9" height="106.3" fill="#1f4e9f"/>
<line x1="1208.2" y1="425.4" x2="1208.2" y2="427.9" stroke="#1f4e9f" stroke-width="2.2"/>
<line x1="1203.8" y1="425.4" x2="1212.8" y2="425.4" stroke="#1f4e9f" stroke-width="2.2"/>
<line x1="1056.8" y1="362.1" x2="1056.8" y2="535.0" stroke="#0c0706" stroke-width="2.5"/>
<line x1="1051.0" y1="533.7" x2="1228.8" y2="533.7" stroke="#0c0706" stroke-width="2.5"/>
<line x1="1051.0" y1="533.4" x2="1056.8" y2="533.4" stroke="#0c0706" stroke-width="2.5"/>
<text x="1017.7" y="540.3" font-size="19.4" textLength="27.0" lengthAdjust="spacingAndGlyphs">0.0</text>
<line x1="1051.0" y1="477.4" x2="1056.8" y2="477.4" stroke="#0c0706" stroke-width="2.5"/>
<text x="1017.8" y="484.3" font-size="19.4" textLength="27.0" lengthAdjust="spacingAndGlyphs">0.5</text>
<line x1="1051.0" y1="420.7" x2="1056.8" y2="420.7" stroke="#0c0706" stroke-width="2.5"/>
<text x="1017.7" y="427.6" font-size="19.4" textLength="27.0" lengthAdjust="spacingAndGlyphs">1.0</text>
<line x1="1051.0" y1="363.6" x2="1056.8" y2="363.6" stroke="#0c0706" stroke-width="2.5"/>
<text x="1017.8" y="370.5" font-size="19.4" textLength="27.0" lengthAdjust="spacingAndGlyphs">1.5</text>
<line x1="1099.9" y1="533.7" x2="1099.9" y2="540.2" stroke="#0c0706" stroke-width="2.5"/>
<line x1="1185.7" y1="533.7" x2="1185.7" y2="540.2" stroke="#0c0706" stroke-width="2.5"/>
<text x="1077.6" y="373.2" font-size="19.3" textLength="22.2" lengthAdjust="spacingAndGlyphs"><tspan font-weight="bold">#</tspan>3</text>
<text x="1056.5" y="562.8" font-size="20.5" textLength="96.6" lengthAdjust="spacingAndGlyphs">circMYBL2</text>
<text x="1172.3" y="560.0" font-size="20.5" textLength="46.8" lengthAdjust="spacingAndGlyphs">FLT3</text>
<text x="1090.1" y="510.4" font-size="16.5" textLength="22.5" lengthAdjust="spacingAndGlyphs">***</text>
<text x="1113.4" y="490.9" font-size="16.5" textLength="22.5" lengthAdjust="spacingAndGlyphs">***</text>
<text x="1177.0" y="415.9" font-size="19" textLength="20.5" lengthAdjust="spacingAndGlyphs">ns</text>
<text x="1197.9" y="415.9" font-size="19" textLength="22.3" lengthAdjust="spacingAndGlyphs">ns</text>
<text x="28.5" y="605.3" font-size="27" font-weight="bold" textLength="18.1" lengthAdjust="spacingAndGlyphs">E</text>
<text x="93.0" y="626.6" font-size="19.2" textLength="90.0" lengthAdjust="spacingAndGlyphs">MOLM-13</text>
<text x="347.7" y="626.6" font-size="19.4" textLength="68.3" lengthAdjust="spacingAndGlyphs">MV4-11</text>
<text transform="translate(113.3 731.7) rotate(-45)" font-size="19.8">si-NC</text>
<text transform="translate(174.8 733.2) rotate(-45)" font-size="19.8">si-circMYBL2-1</text>
<text transform="translate(234.8 733.2) rotate(-45)" font-size="19.8">si-circMYBL2-2</text>
<text transform="translate(316.8 731.7) rotate(-45)" font-size="19.8">si-NC</text>
<text transform="translate(370.8 732.7) rotate(-45)" font-size="19.8">si-circMYBL2-1</text>
<text transform="translate(428.8 732.7) rotate(-45)" font-size="19.8">si-circMYBL2-2</text>
<text x="16.1" y="771.3" font-size="19.8" textLength="78.4" lengthAdjust="spacingAndGlyphs">p-STAT5</text>
<text x="32.2" y="811.7" font-size="19.8" textLength="61.3" lengthAdjust="spacingAndGlyphs">STAT5</text>
<text x="33.2" y="855.8" font-size="19.8" textLength="61.1" lengthAdjust="spacingAndGlyphs">c-MYC</text>
<text x="21.7" y="895.8" font-size="19.8" textLength="72.9" lengthAdjust="spacingAndGlyphs">GADPH</text>
<clipPath id="c16"><rect x="101.5" y="741.4" width="178.1" height="41.0"/></clipPath>
<rect x="101.5" y="741.4" width="178.1" height="41.0" fill="#d0d0d0"/>
<g clip-path="url(#c16)"><g filter="url(#b2)">
<rect x="106.7" y="753.9" width="50.6" height="20.0" rx="5.0" fill="#969696"/>
<rect x="107.8" y="757.4" width="48.3" height="13.0" rx="5.0" fill="#303030"/>
<rect x="168.8" y="757.4" width="43.7" height="14.0" rx="5.0" fill="#bebebe"/>
<rect x="170.0" y="760.9" width="41.4" height="8.0" rx="4.0" fill="#969696"/>
<rect x="226.3" y="758.9" width="46.0" height="13.0" rx="5.0" fill="#c3c3c3"/>
<rect x="227.5" y="762.4" width="43.7" height="7.0" rx="3.5" fill="#aaaaaa"/>
</g>
<rect x="101.5" y="741.4" width="178.1" height="41.0" filter="url(#nz)" opacity="0.10"/>
</g>
<rect x="102.9" y="742.8" width="175.3" height="38.2" fill="none" stroke="#0a0a0a" stroke-width="2.8"/>
<clipPath id="c17"><rect x="101.5" y="786.5" width="178.1" height="37.8"/></clipPath>
<rect x="101.5" y="786.5" width="178.1" height="37.8" fill="#c6c6c6"/>
<g clip-path="url(#c17)"><g filter="url(#b2)">
<rect x="104.4" y="797.0" width="55.2" height="18.0" rx="5.0" fill="#787878"/>
<rect x="105.5" y="800.0" width="52.9" height="12.0" rx="5.0" fill="#232323"/>
<rect x="165.4" y="798.0" width="50.6" height="16.0" rx="5.0" fill="#828282"/>
<rect x="166.5" y="800.5" width="48.3" height="11.0" rx="5.0" fill="#303030"/>
<rect x="222.9" y="797.5" width="52.9" height="17.0" rx="5.0" fill="#7d7d7d"/>
<rect x="224.0" y="800.0" width="50.6" height="12.0" rx="5.0" fill="#2a2a2a"/>
</g>
<rect x="101.5" y="786.5" width="178.1" height="37.8" filter="url(#nz)" opacity="0.10"/>
</g>
<rect x="102.9" y="787.9" width="175.3" height="35.0" fill="none" stroke="#0a0a0a" stroke-width="2.8"/>
<clipPath id="c18"><rect x="101.5" y="829.0" width="178.1" height="39.4"/></clipPath>
<rect x="101.5" y="829.0" width="178.1" height="39.4" fill="#cacaca"/>
<g clip-path="url(#c18)"><g filter="url(#b2)">
<rect x="107.8" y="843.5" width="48.3" height="10.0" rx="5.0" fill="#5c5c5c"/>
<rect x="107.8" y="834.5" width="48.3" height="9.0" rx="4.5" fill="#a5a5a5"/>
<rect x="168.8" y="845.0" width="43.7" height="9.0" rx="4.5" fill="#7a7a7a"/>
<rect x="170.0" y="837.0" width="41.4" height="8.0" rx="4.0" fill="#b9b9b9"/>
<rect x="227.5" y="843.5" width="43.7" height="10.0" rx="5.0" fill="#7a7a7a"/>
<rect x="228.6" y="836.0" width="41.4" height="8.0" rx="4.0" fill="#b4b4b4"/>
</g>
<rect x="101.5" y="829.0" width="178.1" height="39.4" filter="url(#nz)" opacity="0.10"/>
</g>
<rect x="102.9" y="830.4" width="175.3" height="36.6" fill="none" stroke="#0a0a0a" stroke-width="2.8"/>
<clipPath id="c19"><rect x="101.5" y="872.5" width="178.1" height="35.5"/></clipPath>
<rect x="101.5" y="872.5" width="178.1" height="35.5" fill="#dedede"/>
<g clip-path="url(#c19)"><g filter="url(#b1_6)">
<rect x="107.8" y="886.0" width="48.3" height="7.5" rx="3.8" fill="#1c1c1c"/>
<rect x="166.5" y="886.0" width="48.3" height="7.5" rx="3.8" fill="#222222"/>
<rect x="225.2" y="885.8" width="48.3" height="7.5" rx="3.8" fill="#1e1e1e"/>
</g>
<rect x="101.5" y="872.5" width="178.1" height="35.5" filter="url(#nz)" opacity="0.10"/>
</g>
<rect x="102.9" y="873.9" width="175.3" height="32.7" fill="none" stroke="#0a0a0a" stroke-width="2.8"/>
<clipPath id="c20"><rect x="297.9" y="740.8" width="178.1" height="41.6"/></clipPath>
<rect x="297.9" y="740.8" width="178.1" height="41.6" fill="#c0c0c0"/>
<g clip-path="url(#c20)"><g filter="url(#b2)">
<rect x="304.6" y="749.8" width="52.9" height="22.0" rx="5.0" fill="#787878"/>
<rect x="305.7" y="752.5" width="50.6" height="16.0" rx="5.0" fill="#232323"/>
<rect x="364.4" y="752.8" width="48.3" height="16.0" rx="5.0" fill="#969696"/>
<rect x="365.5" y="755.2" width="46.0" height="10.5" rx="5.0" fill="#373737"/>
<rect x="420.4" y="752.8" width="48.3" height="16.0" rx="5.0" fill="#969696"/>
<rect x="421.5" y="755.2" width="46.0" height="10.5" rx="5.0" fill="#373737"/>
</g>
<rect x="297.9" y="740.8" width="178.1" height="41.6" filter="url(#nz)" opacity="0.10"/>
</g>
<rect x="299.3" y="742.2" width="175.3" height="38.8" fill="none" stroke="#0a0a0a" stroke-width="2.8"/>
<clipPath id="c21"><rect x="297.9" y="785.8" width="178.1" height="38.5"/></clipPath>
<rect x="297.9" y="785.8" width="178.1" height="38.5" fill="#bcbcbc"/>
<g clip-path="url(#c21)"><g filter="url(#b2_5)">
<rect x="305.7" y="787.8" width="50.6" height="24.0" rx="5.0" fill="#787878"/>
<rect x="304.6" y="800.8" width="52.9" height="16.0" rx="5.0" fill="#484848"/>
<rect x="364.4" y="793.8" width="48.3" height="20.0" rx="5.0" fill="#8c8c8c"/>
<rect x="365.5" y="796.3" width="46.0" height="14.0" rx="5.0" fill="#3e3e3e"/>
<rect x="418.1" y="792.8" width="52.9" height="24.0" rx="5.0" fill="#878787"/>
<rect x="419.2" y="795.8" width="50.6" height="18.0" rx="5.0" fill="#373737"/>
</g>
<rect x="297.9" y="785.8" width="178.1" height="38.5" filter="url(#nz)" opacity="0.10"/>
</g>
<rect x="299.3" y="787.2" width="175.3" height="35.7" fill="none" stroke="#0a0a0a" stroke-width="2.8"/>
<clipPath id="c22"><rect x="297.9" y="828.4" width="178.1" height="37.8"/></clipPath>
<rect x="297.9" y="828.4" width="178.1" height="37.8" fill="#c4c4c4"/>
<g clip-path="url(#c22)"><g filter="url(#b1_6)">
<rect x="308.0" y="834.4" width="46.0" height="16.0" rx="5.0" fill="#a5a5a5"/>
<rect x="308.0" y="839.4" width="46.0" height="9.0" rx="4.5" fill="#4e4e4e"/>
<rect x="367.8" y="839.4" width="41.4" height="12.0" rx="5.0" fill="#b9b9b9"/>
<rect x="368.9" y="844.9" width="39.1" height="6.0" rx="3.0" fill="#808080"/>
<rect x="421.5" y="838.4" width="46.0" height="14.0" rx="5.0" fill="#aaaaaa"/>
<rect x="422.6" y="843.9" width="43.7" height="8.0" rx="4.0" fill="#5c5c5c"/>
</g>
<rect x="297.9" y="828.4" width="178.1" height="37.8" filter="url(#nz)" opacity="0.10"/>
</g>
<rect x="299.3" y="829.8" width="175.3" height="35.0" fill="none" stroke="#0a0a0a" stroke-width="2.8"/>
<clipPath id="c23"><rect x="297.9" y="870.0" width="178.1" height="39.4"/></clipPath>
<rect x="297.9" y="870.0" width="178.1" height="39.4" fill="#dadada"/>
<g clip-path="url(#c23)"><g filter="url(#b1_6)">
<rect x="306.9" y="886.0" width="48.3" height="7.5" rx="3.8" fill="#1e1e1e"/>
<rect x="365.5" y="886.0" width="46.0" height="7.5" rx="3.8" fill="#202020"/>
<rect x="420.4" y="884.2" width="48.3" height="9.5" rx="4.8" fill="#181818"/>
</g>
<rect x="297.9" y="870.0" width="178.1" height="39.4" filter="url(#nz)" opacity="0.10"/>
</g>
<rect x="299.3" y="871.4" width="175.3" height="36.6" fill="none" stroke="#0a0a0a" stroke-width="2.8"/>
<text x="532.7" y="605.2" font-size="27" font-weight="bold" textLength="16.8" lengthAdjust="spacingAndGlyphs">F</text>
<text x="581.9" y="604.6" font-size="19.5" textLength="271.1" lengthAdjust="spacingAndGlyphs"><tspan font-style="italic">FLT3</tspan>-ITD AML Patient Sample</text>
<text x="604.9" y="651.0" font-size="19.3" textLength="20.7" lengthAdjust="spacingAndGlyphs"><tspan font-weight="bold">#</tspan>1</text>
<text x="843.3" y="651.0" font-size="19.3" textLength="23.1" lengthAdjust="spacingAndGlyphs"><tspan font-weight="bold">#</tspan>2</text>
<text transform="translate(622.3 723.7) rotate(-45)" font-size="19.8">si-NC</text>
<text transform="translate(672.8 723.7) rotate(-45)" font-size="19.8">si-circMYBL2-1</text>
<text transform="translate(727.3 723.7) rotate(-45)" font-size="19.8">si-circMYBL2-2</text>
<text transform="translate(822.3 725.2) rotate(-45)" font-size="19.8">si-NC</text>
<text transform="translate(883.3 725.2) rotate(-45)" font-size="19.8">si-circMYBL2-1</text>
<text transform="translate(938.3 725.2) rotate(-45)" font-size="19.8">si-circMYBL2-2</text>
<text x="514.2" y="768.5" font-size="19.8" textLength="77.7" lengthAdjust="spacingAndGlyphs">p-STAT5</text>
<text x="531.1" y="809.5" font-size="19.8" textLength="59.8" lengthAdjust="spacingAndGlyphs">STAT5</text>
<text x="531.2" y="854.2" font-size="19.8" textLength="61.5" lengthAdjust="spacingAndGlyphs">c-MYC</text>
<text x="521.6" y="895.2" font-size="19.8" textLength="72.0" lengthAdjust="spacingAndGlyphs">GADPH</text>
<clipPath id="c24"><rect x="601.6" y="733.5" width="178.1" height="40.4"/></clipPath>
<rect x="601.6" y="733.5" width="178.1" height="40.4" fill="#a6a6a6"/>
<g clip-path="url(#c24)"><g filter="url(#b1_6)">
<rect x="603.9" y="747.5" width="48.3" height="12.0" rx="5.0" fill="#8c8c8c"/>
<rect x="605.0" y="750.4" width="46.0" height="7.5" rx="3.8" fill="#3a3a3a"/>
<rect x="670.6" y="752.0" width="36.8" height="5.0" rx="2.5" fill="#9c9c9c"/>
<rect x="727.0" y="747.0" width="46.0" height="11.0" rx="5.0" fill="#9b9b9b"/>
<rect x="729.3" y="749.8" width="41.4" height="6.5" rx="3.2" fill="#848484"/>
</g>
<rect x="601.6" y="733.5" width="178.1" height="40.4" filter="url(#nz)" opacity="0.10"/>
</g>
<rect x="603.0" y="734.9" width="175.3" height="37.6" fill="none" stroke="#0a0a0a" stroke-width="2.8"/>
<clipPath id="c25"><rect x="601.6" y="777.6" width="178.1" height="40.9"/></clipPath>
<rect x="601.6" y="777.6" width="178.1" height="40.9" fill="#b8b8b8"/>
<g clip-path="url(#c25)"><g filter="url(#b2)">
<rect x="602.7" y="783.6" width="50.6" height="22.0" rx="5.0" fill="#787878"/>
<rect x="603.9" y="786.1" width="48.3" height="16.0" rx="5.0" fill="#2a2a2a"/>
<rect x="663.2" y="785.1" width="51.5" height="23.0" rx="5.0" fill="#787878"/>
<rect x="664.2" y="788.1" width="49.7" height="17.0" rx="5.0" fill="#282828"/>
<rect x="723.5" y="783.6" width="52.9" height="25.0" rx="5.0" fill="#737373"/>
<rect x="724.7" y="786.6" width="50.6" height="19.0" rx="5.0" fill="#242424"/>
</g>
<rect x="601.6" y="777.6" width="178.1" height="40.9" filter="url(#nz)" opacity="0.10"/>
</g>
<rect x="603.0" y="779.0" width="175.3" height="38.1" fill="none" stroke="#0a0a0a" stroke-width="2.8"/>
<clipPath id="c26"><rect x="601.6" y="822.0" width="178.1" height="39.5"/></clipPath>
<rect x="601.6" y="822.0" width="178.1" height="39.5" fill="#b4b4b4"/>
<g clip-path="url(#c26)"><g filter="url(#b2_5)">
<rect x="596.5" y="820.0" width="23.0" height="44.0" rx="5.0" fill="#222222"/>
<rect x="595.9" y="830.0" width="56.1" height="22.0" rx="5.0" fill="#1e1e1e"/>
<rect x="593.9" y="847.0" width="32.2" height="14.0" rx="5.0" fill="#191919"/>
<rect x="668.3" y="837.0" width="41.4" height="8.0" rx="4.0" fill="#a8a8a8"/>
<rect x="724.7" y="830.0" width="50.6" height="18.0" rx="5.0" fill="#878787"/>
<rect x="725.9" y="835.0" width="48.3" height="11.0" rx="5.0" fill="#484848"/>
</g>
<rect x="601.6" y="822.0" width="178.1" height="39.5" filter="url(#nz)" opacity="0.10"/>
</g>
<rect x="603.0" y="823.4" width="175.3" height="36.7" fill="none" stroke="#0a0a0a" stroke-width="2.8"/>
<clipPath id="c27"><rect x="601.6" y="865.3" width="178.1" height="44.1"/></clipPath>
<rect x="601.6" y="865.3" width="178.1" height="44.1" fill="#969696"/>
<g clip-path="url(#c27)"><g filter="url(#b2)">
<rect x="602.2" y="878.8" width="51.5" height="18.0" rx="5.0" fill="#787878"/>
<rect x="603.2" y="882.3" width="49.7" height="11.0" rx="5.0" fill="#484848"/>
<rect x="663.7" y="877.3" width="50.6" height="18.0" rx="5.0" fill="#737373"/>
<rect x="664.9" y="880.3" width="48.3" height="12.0" rx="5.0" fill="#3e3e3e"/>
<rect x="723.5" y="878.3" width="52.9" height="18.0" rx="5.0" fill="#707070"/>
<rect x="724.7" y="881.3" width="50.6" height="12.0" rx="5.0" fill="#3a3a3a"/>
</g>
<rect x="601.6" y="865.3" width="178.1" height="44.1" filter="url(#nz)" opacity="0.10"/>
</g>
<rect x="603.0" y="866.7" width="175.3" height="41.3" fill="none" stroke="#0a0a0a" stroke-width="2.8"/>
<clipPath id="c28"><rect x="809.6" y="735.0" width="177.4" height="40.4"/></clipPath>
<rect x="809.6" y="735.0" width="177.4" height="40.4" fill="#cdcdcd"/>
<g clip-path="url(#c28)"><g filter="url(#b2)">
<rect x="815.2" y="745.0" width="51.5" height="21.0" rx="5.0" fill="#969696"/>
<rect x="816.2" y="748.0" width="49.7" height="15.0" rx="5.0" fill="#525252"/>
<rect x="875.9" y="746.0" width="48.3" height="17.0" rx="5.0" fill="#a5a5a5"/>
<rect x="877.0" y="749.0" width="46.0" height="11.0" rx="5.0" fill="#666666"/>
<rect x="933.4" y="745.5" width="48.8" height="18.0" rx="5.0" fill="#a0a0a0"/>
<rect x="934.3" y="748.5" width="46.9" height="12.0" rx="5.0" fill="#5c5c5c"/>
</g>
<rect x="809.6" y="735.0" width="177.4" height="40.4" filter="url(#nz)" opacity="0.10"/>
</g>
<rect x="811.0" y="736.4" width="174.6" height="37.6" fill="none" stroke="#0a0a0a" stroke-width="2.8"/>
<clipPath id="c29"><rect x="809.6" y="781.7" width="177.4" height="35.5"/></clipPath>
<rect x="809.6" y="781.7" width="177.4" height="35.5" fill="#969696"/>
<g clip-path="url(#c29)"><g filter="url(#b1_6)">
<rect x="816.9" y="793.7" width="48.3" height="14.0" rx="5.0" fill="#6e6e6e"/>
<rect x="818.0" y="796.5" width="46.0" height="8.5" rx="4.2" fill="#2a2a2a"/>
<rect x="876.5" y="793.7" width="46.9" height="14.0" rx="5.0" fill="#707070"/>
<rect x="877.5" y="796.5" width="45.1" height="8.5" rx="4.2" fill="#303030"/>
<rect x="932.0" y="793.7" width="51.5" height="16.0" rx="5.0" fill="#5a5a5a"/>
<rect x="933.0" y="796.5" width="49.7" height="10.5" rx="5.0" fill="#0c0c0c"/>
</g>
<rect x="809.6" y="781.7" width="177.4" height="35.5" filter="url(#nz)" opacity="0.10"/>
</g>
<rect x="811.0" y="783.1" width="174.6" height="32.7" fill="none" stroke="#0a0a0a" stroke-width="2.8"/>
<clipPath id="c30"><rect x="809.6" y="821.0" width="177.4" height="41.0"/></clipPath>
<rect x="809.6" y="821.0" width="177.4" height="41.0" fill="#dadada"/>
<g clip-path="url(#c30)"><g filter="url(#b2)">
<rect x="814.3" y="830.0" width="53.4" height="26.0" rx="5.0" fill="#a0a0a0"/>
<rect x="815.2" y="834.0" width="51.5" height="18.0" rx="5.0" fill="#5c5c5c"/>
<rect x="877.0" y="837.0" width="46.0" height="14.0" rx="5.0" fill="#b9b9b9"/>
<rect x="878.1" y="841.0" width="43.7" height="8.0" rx="4.0" fill="#828282"/>
<rect x="932.5" y="831.5" width="50.6" height="23.0" rx="5.0" fill="#a0a0a0"/>
<rect x="933.6" y="835.5" width="48.3" height="15.0" rx="5.0" fill="#525252"/>
</g>
<rect x="809.6" y="821.0" width="177.4" height="41.0" filter="url(#nz)" opacity="0.10"/>
</g>
<rect x="811.0" y="822.4" width="174.6" height="38.2" fill="none" stroke="#0a0a0a" stroke-width="2.8"/>
<clipPath id="c31"><rect x="809.6" y="866.2" width="177.4" height="41.8"/></clipPath>
<rect x="809.6" y="866.2" width="177.4" height="41.8" fill="#a0a0a0"/>
<g clip-path="url(#c31)"><g filter="url(#b1_6)">
<rect x="814.8" y="880.2" width="52.4" height="18.0" rx="5.0" fill="#696969"/>
<rect x="815.7" y="883.2" width="50.6" height="12.0" rx="5.0" fill="#2a2a2a"/>
<rect x="874.7" y="880.2" width="50.6" height="18.0" rx="5.0" fill="#6c6c6c"/>
<rect x="875.9" y="883.2" width="48.3" height="12.0" rx="5.0" fill="#2c2c2c"/>
<rect x="932.0" y="880.2" width="51.5" height="18.0" rx="5.0" fill="#696969"/>
<rect x="933.0" y="883.0" width="49.7" height="12.5" rx="5.0" fill="#282828"/>
</g>
<rect x="809.6" y="866.2" width="177.4" height="41.8" filter="url(#nz)" opacity="0.10"/>
</g>
<rect x="811.0" y="867.6" width="174.6" height="39.0" fill="none" stroke="#0a0a0a" stroke-width="2.8"/>
<text x="1043.8" y="604.9" font-size="27" font-weight="bold" textLength="21.6" lengthAdjust="spacingAndGlyphs">G</text>
<text transform="translate(1073.6 876.4) rotate(-90)" font-size="21.5" textLength="195.6" lengthAdjust="spacingAndGlyphs">Annexin V-positive cells</text>
<text transform="translate(1074.3 673.8) rotate(-90)" font-size="20" font-family="'Liberation Sans', 'Noto Sans CJK SC', sans-serif">（</text>
<text transform="translate(1074.8 653.3) rotate(-90)" font-size="20" textLength="17.3" lengthAdjust="spacingAndGlyphs">%</text>
<text transform="translate(1074.3 630.3) rotate(-90)" font-size="20" font-family="'Liberation Sans', 'Noto Sans CJK SC', sans-serif">）</text>
<rect x="1121.8" y="759.1" width="28.3" height="71.1" fill="#0c0706"/>
<rect x="1162.0" y="692.7" width="28.2" height="137.5" fill="#e84646"/>
<rect x="1201.9" y="730.2" width="28.3" height="100.0" fill="#1f4e9f"/>
<line x1="1135.9" y1="755.7" x2="1135.9" y2="759.6" stroke="#0c0706" stroke-width="2.4"/>
<line x1="1128.0" y1="755.7" x2="1143.8" y2="755.7" stroke="#0c0706" stroke-width="2.4"/>
<line x1="1176.1" y1="687.4" x2="1176.1" y2="693.2" stroke="#e84646" stroke-width="2.4"/>
<line x1="1168.2" y1="687.4" x2="1184.0" y2="687.4" stroke="#e84646" stroke-width="2.4"/>
<line x1="1216.0" y1="721.8" x2="1216.0" y2="730.7" stroke="#1f4e9f" stroke-width="2.4"/>
<line x1="1208.1" y1="721.8" x2="1223.9" y2="721.8" stroke="#1f4e9f" stroke-width="2.4"/>
<line x1="1116.3" y1="649.8" x2="1116.3" y2="831.7" stroke="#0c0706" stroke-width="3"/>
<line x1="1110.1" y1="830.2" x2="1237.4" y2="830.2" stroke="#0c0706" stroke-width="3"/>
<line x1="1110.1" y1="651.3" x2="1116.3" y2="651.3" stroke="#0c0706" stroke-width="3"/>
<text x="1086.2" y="656.0" font-size="16" textLength="22.8" lengthAdjust="spacingAndGlyphs">30</text>
<line x1="1110.1" y1="710.9" x2="1116.3" y2="710.9" stroke="#0c0706" stroke-width="3"/>
<text x="1086.2" y="715.6" font-size="16" textLength="22.8" lengthAdjust="spacingAndGlyphs">20</text>
<line x1="1110.1" y1="770.5" x2="1116.3" y2="770.5" stroke="#0c0706" stroke-width="3"/>
<text x="1086.2" y="775.2" font-size="16" textLength="22.8" lengthAdjust="spacingAndGlyphs">10</text>
<line x1="1110.1" y1="830.1" x2="1116.3" y2="830.1" stroke="#0c0706" stroke-width="3"/>
<text x="1097.6" y="834.8" font-size="16" textLength="11.4" lengthAdjust="spacingAndGlyphs">0</text>
<line x1="1135.6" y1="830.2" x2="1135.6" y2="835.6" stroke="#0c0706" stroke-width="3"/>
<line x1="1176.1" y1="830.2" x2="1176.1" y2="835.6" stroke="#0c0706" stroke-width="3"/>
<line x1="1216.2" y1="830.2" x2="1216.2" y2="835.6" stroke="#0c0706" stroke-width="3"/>
<line x1="1131.8" y1="682.3" x2="1169.5" y2="682.3" stroke="#0c0706" stroke-width="3"/>
<line x1="1182.7" y1="682.3" x2="1221.3" y2="682.3" stroke="#0c0706" stroke-width="3"/>
<text x="1142.8" y="679.6" font-size="16.5" textLength="23.1" lengthAdjust="spacingAndGlyphs">***</text>
<text x="1201.3" y="679.6" font-size="16.5" textLength="7.7" lengthAdjust="spacingAndGlyphs">*</text>
<text transform="translate(1151.3 852.3) rotate(-45)" font-size="21.3" text-anchor="end" textLength="89.7" lengthAdjust="spacingAndGlyphs">si-NC+NC</text>
<text transform="translate(1192.8 852.3) rotate(-45)" font-size="21.3" text-anchor="end" textLength="156.9" lengthAdjust="spacingAndGlyphs">si-circMYBL2+NC</text>
<text transform="translate(1236.3 852.8) rotate(-45)" font-size="21.3" text-anchor="end" textLength="172.3" lengthAdjust="spacingAndGlyphs">si-circMYBL2+MYC</text>
<text x="21.9" y="964.6" font-size="27" font-weight="bold" textLength="21.1" lengthAdjust="spacingAndGlyphs">H</text>
<text x="104.9" y="971.5" font-size="19.2" textLength="90.5" lengthAdjust="spacingAndGlyphs">MOLM-13</text>
<text x="343.5" y="971.5" font-size="19.2" textLength="127.7" lengthAdjust="spacingAndGlyphs">MOLM-13-RQ</text>
<text transform="translate(127.3 1077.2) rotate(-45)" font-size="19.8">si-NC</text>
<text transform="translate(174.8 1078.2) rotate(-45)" font-size="19.8">si-circMYBL2-1</text>
<text transform="translate(233.3 1082.2) rotate(-45)" font-size="19.8">si-circMYBL2-2</text>
<text transform="translate(357.8 1082.2) rotate(-45)" font-size="19.8">si-NC</text>
<text transform="translate(413.3 1079.2) rotate(-45)" font-size="19.8">si-circMYBL2-1</text>
<text transform="translate(468.3 1083.2) rotate(-45)" font-size="19.8">si-circMYBL2-2</text>
<text x="32.8" y="1110.2" font-size="19.8" textLength="64.1" lengthAdjust="spacingAndGlyphs">p-FLT3</text>
<text x="48.2" y="1150.6" font-size="19.8" textLength="46.6" lengthAdjust="spacingAndGlyphs">FLT3</text>
<text x="20.8" y="1193.1" font-size="19.8" textLength="78.4" lengthAdjust="spacingAndGlyphs">p-STAT5</text>
<text x="36.3" y="1233.1" font-size="19.8" textLength="59.2" lengthAdjust="spacingAndGlyphs">STAT5</text>
<text x="36.4" y="1277.3" font-size="19.8" textLength="61.4" lengthAdjust="spacingAndGlyphs">c-MYC</text>
<text x="25.8" y="1315.7" font-size="19.8" textLength="72.9" lengthAdjust="spacingAndGlyphs">GAPDH</text>
<clipPath id="c32"><rect x="104.6" y="1085.6" width="176.9" height="36.6"/></clipPath>
<rect x="104.6" y="1085.6" width="176.9" height="36.6" fill="#a6a6a6"/>
<g clip-path="url(#c32)"><g filter="url(#b2)">
<rect x="107.2" y="1088.6" width="55.2" height="32.0" rx="5.0" fill="#808080"/>
<rect x="108.4" y="1091.6" width="52.8" height="11.0" rx="5.0" fill="#707070"/>
<rect x="108.4" y="1106.8" width="52.8" height="9.5" rx="4.8" fill="#545454"/>
<rect x="167.5" y="1088.6" width="52.8" height="32.0" rx="5.0" fill="#888888"/>
<rect x="168.7" y="1092.1" width="50.4" height="10.0" rx="5.0" fill="#7a7a7a"/>
<rect x="168.7" y="1107.3" width="50.4" height="8.5" rx="4.2" fill="#606060"/>
<rect x="226.9" y="1088.6" width="52.8" height="32.0" rx="5.0" fill="#888888"/>
<rect x="228.1" y="1091.6" width="50.4" height="10.0" rx="5.0" fill="#7a7a7a"/>
<rect x="228.1" y="1106.3" width="50.4" height="8.5" rx="4.2" fill="#646464"/>
</g>
<rect x="104.6" y="1085.6" width="176.9" height="36.6" filter="url(#nz)" opacity="0.10"/>
</g>
<rect x="106.0" y="1087.0" width="174.1" height="33.8" fill="none" stroke="#0a0a0a" stroke-width="2.8"/>
<clipPath id="c33"><rect x="104.6" y="1126.6" width="176.9" height="35.9"/></clipPath>
<rect x="104.6" y="1126.6" width="176.9" height="35.9" fill="#b4b4b4"/>
<g clip-path="url(#c33)"><g filter="url(#b1_6)">
<rect x="108.9" y="1134.1" width="51.8" height="24.0" rx="5.0" fill="#696969"/>
<rect x="108.9" y="1134.3" width="51.8" height="10.0" rx="5.0" fill="#3e3e3e"/>
<rect x="108.9" y="1147.8" width="51.8" height="9.5" rx="4.8" fill="#303030"/>
<rect x="169.9" y="1135.6" width="48.0" height="20.0" rx="5.0" fill="#969696"/>
<rect x="169.9" y="1147.6" width="48.0" height="8.0" rx="4.0" fill="#585858"/>
<rect x="170.4" y="1136.8" width="47.0" height="6.5" rx="3.2" fill="#6c6c6c"/>
<rect x="228.8" y="1135.6" width="49.0" height="20.0" rx="5.0" fill="#949494"/>
<rect x="228.8" y="1147.1" width="49.0" height="8.0" rx="4.0" fill="#545454"/>
<rect x="229.3" y="1135.8" width="48.0" height="6.5" rx="3.2" fill="#666666"/>
</g>
<rect x="104.6" y="1126.6" width="176.9" height="35.9" filter="url(#nz)" opacity="0.10"/>
</g>
<rect x="106.0" y="1128.0" width="174.1" height="33.1" fill="none" stroke="#0a0a0a" stroke-width="2.8"/>
<clipPath id="c34"><rect x="104.6" y="1165.7" width="176.9" height="36.6"/></clipPath>
<rect x="104.6" y="1165.7" width="176.9" height="36.6" fill="#b6b6b6"/>
<g clip-path="url(#c34)"><g filter="url(#b2)">
<rect x="109.6" y="1176.2" width="50.4" height="17.0" rx="5.0" fill="#969696"/>
<rect x="110.8" y="1179.6" width="48.0" height="11.0" rx="5.0" fill="#525252"/>
<rect x="170.4" y="1177.2" width="47.0" height="13.0" rx="5.0" fill="#aaaaaa"/>
<rect x="171.8" y="1180.0" width="44.2" height="7.5" rx="3.8" fill="#7d7d7d"/>
<rect x="230.5" y="1178.7" width="45.6" height="11.0" rx="5.0" fill="#afafaf"/>
<rect x="231.7" y="1181.2" width="43.2" height="6.0" rx="3.0" fill="#8c8c8c"/>
</g>
<rect x="104.6" y="1165.7" width="176.9" height="36.6" filter="url(#nz)" opacity="0.10"/>
</g>
<rect x="106.0" y="1167.1" width="174.1" height="33.8" fill="none" stroke="#0a0a0a" stroke-width="2.8"/>
<clipPath id="c35"><rect x="104.6" y="1206.4" width="176.9" height="35.6"/></clipPath>
<rect x="104.6" y="1206.4" width="176.9" height="35.6" fill="#989898"/>
<g clip-path="url(#c35)"><g filter="url(#b1_6)">
<rect x="107.9" y="1211.4" width="53.8" height="26.0" rx="5.0" fill="#6e6e6e"/>
<rect x="108.4" y="1214.9" width="52.8" height="13.0" rx="5.0" fill="#0e0e0e"/>
<rect x="108.9" y="1231.7" width="51.8" height="5.5" rx="2.8" fill="#303030"/>
<rect x="167.5" y="1211.4" width="52.8" height="26.0" rx="5.0" fill="#6e6e6e"/>
<rect x="168.0" y="1214.9" width="51.8" height="13.0" rx="5.0" fill="#101010"/>
<rect x="168.7" y="1231.7" width="50.4" height="5.5" rx="2.8" fill="#343434"/>
<rect x="226.9" y="1211.4" width="52.8" height="26.0" rx="5.0" fill="#707070"/>
<rect x="227.4" y="1214.4" width="51.8" height="13.0" rx="5.0" fill="#141414"/>
<rect x="228.8" y="1231.2" width="49.0" height="5.5" rx="2.8" fill="#3a3a3a"/>
</g>
<rect x="104.6" y="1206.4" width="176.9" height="35.6" filter="url(#nz)" opacity="0.10"/>
</g>
<rect x="106.0" y="1207.8" width="174.1" height="32.8" fill="none" stroke="#0a0a0a" stroke-width="2.8"/>
<clipPath id="c36"><rect x="104.6" y="1246.4" width="176.9" height="36.6"/></clipPath>
<rect x="104.6" y="1246.4" width="176.9" height="36.6" fill="#b2b2b2"/>
<g clip-path="url(#c36)"><g filter="url(#b2)">
<rect x="108.9" y="1256.4" width="51.8" height="20.0" rx="5.0" fill="#878787"/>
<rect x="110.3" y="1260.5" width="49.0" height="13.0" rx="5.0" fill="#3a3a3a"/>
<rect x="169.9" y="1261.9" width="48.0" height="13.0" rx="5.0" fill="#a0a0a0"/>
<rect x="171.1" y="1265.2" width="45.6" height="7.5" rx="3.8" fill="#6c6c6c"/>
<rect x="230.5" y="1262.4" width="45.6" height="12.0" rx="5.0" fill="#a5a5a5"/>
<rect x="231.7" y="1265.2" width="43.2" height="6.5" rx="3.2" fill="#727272"/>
</g>
<rect x="104.6" y="1246.4" width="176.9" height="36.6" filter="url(#nz)" opacity="0.10"/>
</g>
<rect x="106.0" y="1247.8" width="174.1" height="33.8" fill="none" stroke="#0a0a0a" stroke-width="2.8"/>
<clipPath id="c37"><rect x="104.6" y="1287.4" width="176.9" height="37.8"/></clipPath>
<rect x="104.6" y="1287.4" width="176.9" height="37.8" fill="#acacac"/>
<g clip-path="url(#c37)"><g filter="url(#b1_6)">
<rect x="110.8" y="1301.7" width="48.0" height="7.0" rx="3.5" fill="#2a2a2a"/>
<rect x="170.4" y="1299.9" width="47.0" height="7.0" rx="3.5" fill="#2e2e2e"/>
<rect x="229.3" y="1298.9" width="48.0" height="7.0" rx="3.5" fill="#2c2c2c"/>
</g>
<rect x="104.6" y="1287.4" width="176.9" height="37.8" filter="url(#nz)" opacity="0.10"/>
</g>
<rect x="106.0" y="1288.8" width="174.1" height="35.0" fill="none" stroke="#0a0a0a" stroke-width="2.8"/>
<clipPath id="c38"><rect x="330.5" y="1087.5" width="176.9" height="36.9"/></clipPath>
<rect x="330.5" y="1087.5" width="176.9" height="36.9" fill="#a4a4a4"/>
<g clip-path="url(#c38)"><g filter="url(#b2)">
<rect x="334.4" y="1090.0" width="55.2" height="32.0" rx="5.0" fill="#7a7a7a"/>
<rect x="335.6" y="1092.0" width="52.8" height="12.0" rx="5.0" fill="#6c6c6c"/>
<rect x="335.6" y="1107.5" width="52.8" height="10.0" rx="5.0" fill="#4e4e4e"/>
<rect x="393.6" y="1090.0" width="52.8" height="32.0" rx="5.0" fill="#828282"/>
<rect x="394.8" y="1092.5" width="50.4" height="11.0" rx="5.0" fill="#747474"/>
<rect x="394.8" y="1107.8" width="50.4" height="9.5" rx="4.8" fill="#545454"/>
<rect x="451.1" y="1090.0" width="51.8" height="32.0" rx="5.0" fill="#919191"/>
<rect x="453.0" y="1093.5" width="48.0" height="10.0" rx="5.0" fill="#848484"/>
<rect x="453.0" y="1108.2" width="48.0" height="8.5" rx="4.2" fill="#666666"/>
</g>
<rect x="330.5" y="1087.5" width="176.9" height="36.9" filter="url(#nz)" opacity="0.10"/>
</g>
<rect x="331.9" y="1088.9" width="174.1" height="34.1" fill="none" stroke="#0a0a0a" stroke-width="2.8"/>
<clipPath id="c39"><rect x="330.5" y="1128.2" width="176.9" height="35.4"/></clipPath>
<rect x="330.5" y="1128.2" width="176.9" height="35.4" fill="#b4b4b4"/>
<g clip-path="url(#c39)"><g filter="url(#b1_6)">
<rect x="335.0" y="1135.2" width="48.0" height="24.0" rx="5.0" fill="#6e6e6e"/>
<rect x="335.0" y="1135.5" width="48.0" height="9.5" rx="4.8" fill="#2a2a2a"/>
<rect x="333.8" y="1149.5" width="50.4" height="9.5" rx="4.8" fill="#242424"/>
<rect x="397.2" y="1138.2" width="45.6" height="18.0" rx="5.0" fill="#a2a2a2"/>
<rect x="397.9" y="1149.7" width="44.2" height="6.5" rx="3.2" fill="#626262"/>
<rect x="398.4" y="1138.7" width="43.2" height="6.0" rx="3.0" fill="#808080"/>
<rect x="455.4" y="1140.0" width="43.2" height="4.5" rx="2.2" fill="#a5a5a5"/>
<rect x="455.4" y="1150.0" width="43.2" height="4.5" rx="2.2" fill="#989898"/>
</g>
<rect x="330.5" y="1128.2" width="176.9" height="35.4" filter="url(#nz)" opacity="0.10"/>
</g>
<rect x="331.9" y="1129.6" width="174.1" height="32.6" fill="none" stroke="#0a0a0a" stroke-width="2.8"/>
<clipPath id="c40"><rect x="330.5" y="1167.0" width="176.9" height="37.1"/></clipPath>
<rect x="330.5" y="1167.0" width="176.9" height="37.1" fill="#e4e4e4"/>
<g clip-path="url(#c40)"><g filter="url(#b1_6)">
<rect x="336.6" y="1178.0" width="50.9" height="14.0" rx="5.0" fill="#b9b9b9"/>
<rect x="337.5" y="1180.8" width="49.0" height="8.5" rx="4.2" fill="#464646"/>
<rect x="396.0" y="1177.0" width="48.0" height="12.0" rx="5.0" fill="#c3c3c3"/>
<rect x="397.2" y="1179.5" width="45.6" height="7.0" rx="3.5" fill="#5c5c5c"/>
<rect x="454.0" y="1177.0" width="46.1" height="10.0" rx="5.0" fill="#cdcdcd"/>
<rect x="454.9" y="1179.0" width="44.2" height="5.5" rx="2.8" fill="#7d7d7d"/>
</g>
<rect x="330.5" y="1167.0" width="176.9" height="37.1" filter="url(#nz)" opacity="0.10"/>
</g>
<rect x="331.9" y="1168.4" width="174.1" height="34.3" fill="none" stroke="#0a0a0a" stroke-width="2.8"/>
<clipPath id="c41"><rect x="330.5" y="1208.0" width="176.9" height="36.2"/></clipPath>
<rect x="330.5" y="1208.0" width="176.9" height="36.2" fill="#a2a2a2"/>
<g clip-path="url(#c41)"><g filter="url(#b1_6)">
<rect x="335.6" y="1213.0" width="52.8" height="24.0" rx="5.0" fill="#737373"/>
<rect x="336.1" y="1216.0" width="51.8" height="12.5" rx="5.0" fill="#0e0e0e"/>
<rect x="336.8" y="1232.5" width="50.4" height="5.5" rx="2.8" fill="#373737"/>
<rect x="394.1" y="1213.0" width="51.8" height="24.0" rx="5.0" fill="#767676"/>
<rect x="394.8" y="1216.0" width="50.4" height="12.5" rx="5.0" fill="#0e0e0e"/>
<rect x="395.5" y="1232.5" width="49.0" height="5.5" rx="2.8" fill="#3c3c3c"/>
<rect x="451.8" y="1213.0" width="50.4" height="22.0" rx="5.0" fill="#787878"/>
<rect x="452.5" y="1215.8" width="49.0" height="11.5" rx="5.0" fill="#121212"/>
<rect x="454.2" y="1232.8" width="45.6" height="4.5" rx="2.2" fill="#767676"/>
</g>
<rect x="330.5" y="1208.0" width="176.9" height="36.2" filter="url(#nz)" opacity="0.10"/>
</g>
<rect x="331.9" y="1209.4" width="174.1" height="33.4" fill="none" stroke="#0a0a0a" stroke-width="2.8"/>
<clipPath id="c42"><rect x="330.5" y="1248.3" width="176.9" height="35.7"/></clipPath>
<rect x="330.5" y="1248.3" width="176.9" height="35.7" fill="#a2a2a2"/>
<g clip-path="url(#c42)"><g filter="url(#b2)">
<rect x="335.6" y="1253.8" width="52.8" height="25.0" rx="5.0" fill="#767676"/>
<rect x="336.8" y="1257.8" width="50.4" height="17.0" rx="5.0" fill="#303030"/>
<rect x="394.8" y="1257.8" width="50.4" height="18.0" rx="5.0" fill="#808080"/>
<rect x="396.0" y="1261.6" width="48.0" height="11.0" rx="5.0" fill="#3e3e3e"/>
<rect x="452.0" y="1256.3" width="49.9" height="18.0" rx="5.0" fill="#7e7e7e"/>
<rect x="453.5" y="1259.5" width="47.0" height="11.0" rx="5.0" fill="#3a3a3a"/>
</g>
<rect x="330.5" y="1248.3" width="176.9" height="35.7" filter="url(#nz)" opacity="0.10"/>
</g>
<rect x="331.9" y="1249.7" width="174.1" height="32.9" fill="none" stroke="#0a0a0a" stroke-width="2.8"/>
<clipPath id="c43"><rect x="330.5" y="1288.3" width="176.9" height="37.8"/></clipPath>
<rect x="330.5" y="1288.3" width="176.9" height="37.8" fill="#bababa"/>
<g clip-path="url(#c43)"><g filter="url(#b1_6)">
<rect x="338.5" y="1302.2" width="47.0" height="5.5" rx="2.8" fill="#444444"/>
<rect x="397.2" y="1302.2" width="45.6" height="5.5" rx="2.8" fill="#444444"/>
<rect x="453.5" y="1301.5" width="47.0" height="6.0" rx="3.0" fill="#404040"/>
</g>
<rect x="330.5" y="1288.3" width="176.9" height="37.8" filter="url(#nz)" opacity="0.10"/>
</g>
<rect x="331.9" y="1289.7" width="174.1" height="35.0" fill="none" stroke="#0a0a0a" stroke-width="2.8"/>
<text x="19.5" y="1378.7" font-size="27" font-weight="bold" textLength="8.1" lengthAdjust="spacingAndGlyphs">I</text>
<text x="73.4" y="1377.5" font-size="19.6" textLength="92.0" lengthAdjust="spacingAndGlyphs">Patient <tspan font-weight="bold">#</tspan>5</text>
<text x="49.2" y="1403.9" font-size="19.6" textLength="166.0" lengthAdjust="spacingAndGlyphs"><tspan font-style="italic">FLT3</tspan>-ITD negative</text>
<text x="54.0" y="1428.1" font-size="19.6" textLength="77.2" lengthAdjust="spacingAndGlyphs">(D835Y)</text>
<text transform="translate(133.3 1474.2) rotate(-45)" font-size="19.8">si-NC</text>
<text transform="translate(192.3 1477.2) rotate(-45)" font-size="19.8">si-circMYBL2</text>
<text x="48.8" y="1512.3" font-size="19.8" textLength="45.9" lengthAdjust="spacingAndGlyphs">FLT3</text>
<text x="24.2" y="1555.2" font-size="19.8" textLength="71.2" lengthAdjust="spacingAndGlyphs">GAPDH</text>
<clipPath id="c44"><rect x="100.9" y="1484.9" width="126.1" height="37.8"/></clipPath>
<rect x="100.9" y="1484.9" width="126.1" height="37.8" fill="#c0c0c0"/>
<g clip-path="url(#c44)"><g filter="url(#b2_5)">
<rect x="106.3" y="1491.9" width="50.6" height="28.0" rx="5.0" fill="#828282"/>
<rect x="107.4" y="1495.9" width="48.3" height="20.0" rx="5.0" fill="#2d2d2d"/>
<rect x="167.5" y="1494.4" width="45.1" height="21.0" rx="5.0" fill="#969696"/>
<rect x="169.3" y="1498.1" width="41.4" height="13.0" rx="5.0" fill="#525252"/>
</g>
<rect x="100.9" y="1484.9" width="126.1" height="37.8" filter="url(#nz)" opacity="0.10"/>
</g>
<rect x="102.3" y="1486.3" width="123.3" height="35.0" fill="none" stroke="#0a0a0a" stroke-width="2.8"/>
<clipPath id="c45"><rect x="100.9" y="1528.0" width="126.1" height="38.8"/></clipPath>
<rect x="100.9" y="1528.0" width="126.1" height="38.8" fill="#acacac"/>
<g clip-path="url(#c45)"><g filter="url(#b2)">
<rect x="104.3" y="1536.0" width="57.5" height="22.0" rx="5.0" fill="#787878"/>
<rect x="105.0" y="1540.0" width="56.1" height="14.0" rx="5.0" fill="#2a2a2a"/>
<rect x="166.4" y="1536.0" width="56.1" height="22.0" rx="5.0" fill="#7a7a7a"/>
<rect x="167.4" y="1540.0" width="54.3" height="14.0" rx="5.0" fill="#303030"/>
</g>
<rect x="100.9" y="1528.0" width="126.1" height="38.8" filter="url(#nz)" opacity="0.10"/>
</g>
<rect x="102.3" y="1529.4" width="123.3" height="36.0" fill="none" stroke="#0a0a0a" stroke-width="2.8"/>
<text transform="translate(313.1 1574.7) rotate(-90)" font-size="19.5" textLength="217.1" lengthAdjust="spacingAndGlyphs">Relative RNA expression</text>
<rect x="369.8" y="1437.6" width="15.2" height="117.7" fill="#0c0706"/>
<line x1="377.4" y1="1430.7" x2="377.4" y2="1438.1" stroke="#0c0706" stroke-width="2.2"/>
<line x1="372.9" y1="1430.7" x2="381.9" y2="1430.7" stroke="#0c0706" stroke-width="2.2"/>
<rect x="392.9" y="1535.3" width="15.2" height="20.0" fill="#e84646"/>
<line x1="400.5" y1="1532.2" x2="400.5" y2="1535.8" stroke="#e84646" stroke-width="2.2"/>
<line x1="396.0" y1="1532.2" x2="405.0" y2="1532.2" stroke="#e84646" stroke-width="2.2"/>
<rect x="416.1" y="1524.9" width="15.2" height="30.4" fill="#1f4e9f"/>
<line x1="419.2" y1="1524.9" x2="428.2" y2="1524.9" stroke="#1f4e9f" stroke-width="1.6"/>
<rect x="454.9" y="1441.4" width="15.2" height="113.9" fill="#0c0706"/>
<line x1="462.5" y1="1440.0" x2="462.5" y2="1441.9" stroke="#0c0706" stroke-width="2.2"/>
<line x1="458.0" y1="1440.0" x2="467.0" y2="1440.0" stroke="#0c0706" stroke-width="2.2"/>
<rect x="478.1" y="1437.0" width="15.2" height="118.3" fill="#e84646"/>
<line x1="481.2" y1="1437.0" x2="490.2" y2="1437.0" stroke="#e84646" stroke-width="1.6"/>
<rect x="500.9" y="1440.7" width="15.2" height="114.6" fill="#1f4e9f"/>
<line x1="508.5" y1="1435.4" x2="508.5" y2="1441.2" stroke="#1f4e9f" stroke-width="2.2"/>
<line x1="504.0" y1="1435.4" x2="513.0" y2="1435.4" stroke="#1f4e9f" stroke-width="2.2"/>
<line x1="358.8" y1="1385.0" x2="358.8" y2="1556.5" stroke="#0c0706" stroke-width="2.5"/>
<line x1="353.1" y1="1555.3" x2="530.0" y2="1555.3" stroke="#0c0706" stroke-width="2.5"/>
<line x1="353.1" y1="1555.2" x2="358.8" y2="1555.2" stroke="#0c0706" stroke-width="2.5"/>
<text x="319.5" y="1562.1" font-size="19.4" textLength="27.0" lengthAdjust="spacingAndGlyphs">0.0</text>
<line x1="353.1" y1="1498.1" x2="358.8" y2="1498.1" stroke="#0c0706" stroke-width="2.5"/>
<text x="319.6" y="1505.0" font-size="19.4" textLength="27.0" lengthAdjust="spacingAndGlyphs">0.5</text>
<line x1="353.1" y1="1441.7" x2="358.8" y2="1441.7" stroke="#0c0706" stroke-width="2.5"/>
<text x="319.5" y="1448.6" font-size="19.4" textLength="27.0" lengthAdjust="spacingAndGlyphs">1.0</text>
<line x1="353.1" y1="1386.2" x2="358.8" y2="1386.2" stroke="#0c0706" stroke-width="2.5"/>
<text x="319.6" y="1393.1" font-size="19.4" textLength="27.0" lengthAdjust="spacingAndGlyphs">1.5</text>
<line x1="399.8" y1="1555.3" x2="399.8" y2="1561.8" stroke="#0c0706" stroke-width="2.5"/>
<line x1="485.5" y1="1555.3" x2="485.5" y2="1561.8" stroke="#0c0706" stroke-width="2.5"/>
<text x="351.1" y="1582.6" font-size="20.5" textLength="96.9" lengthAdjust="spacingAndGlyphs">circMYBL2</text>
<text x="476.9" y="1585.1" font-size="20.5" textLength="47.2" lengthAdjust="spacingAndGlyphs">FLT3</text>
<text x="391.3" y="1525.3" font-size="16.5" textLength="22.5" lengthAdjust="spacingAndGlyphs">***</text>
<text x="414.0" y="1517.4" font-size="16.5" textLength="22.5" lengthAdjust="spacingAndGlyphs">***</text>
<text x="477.3" y="1426.6" font-size="19" textLength="20.9" lengthAdjust="spacingAndGlyphs">ns</text>
<text x="499.3" y="1429.1" font-size="19" textLength="21.7" lengthAdjust="spacingAndGlyphs">ns</text>
<rect x="371.4" y="1352.5" width="21.1" height="12.0" fill="#0c0706"/>
<text x="400.9" y="1363.5" font-size="18.6" textLength="50.1" lengthAdjust="spacingAndGlyphs">si-NC</text>
<rect x="371.4" y="1369.2" width="21.1" height="12.0" fill="#e84646"/>
<text x="400.9" y="1377.7" font-size="18.6" textLength="136.9" lengthAdjust="spacingAndGlyphs">si-circMYBL2-1</text>
<rect x="371.4" y="1384.2" width="21.1" height="12.0" fill="#1f4e9f"/>
<text x="400.9" y="1395.0" font-size="18.6" textLength="138.5" lengthAdjust="spacingAndGlyphs">si-circMYBL2-2</text>
<text x="592.3" y="964.4" font-size="27" font-weight="bold" textLength="14.4" lengthAdjust="spacingAndGlyphs">J</text>
<text x="640.4" y="1005.2" font-size="18" textLength="65.2" lengthAdjust="spacingAndGlyphs">MV4-11</text>
<text x="764.3" y="1020.7" font-size="17.2" textLength="52.1" lengthAdjust="spacingAndGlyphs">sh-NC</text>
<text x="1039.4" y="1020.7" font-size="17.2" textLength="117.4" lengthAdjust="spacingAndGlyphs">sh-circMYBL2</text>
<line x1="665.8" y1="1028.3" x2="665.8" y2="1196.4" stroke="#0c0706" stroke-width="3.8"/>
<line x1="659.8" y1="1195.0" x2="917.5" y2="1195.0" stroke="#0c0706" stroke-width="2.8"/>
<line x1="659.8" y1="1195.0" x2="665.8" y2="1195.0" stroke="#0c0706" stroke-width="2.6"/>
<text x="626.6" y="1201.3" font-size="17.6" textLength="24.5" lengthAdjust="spacingAndGlyphs">0.0</text>
<line x1="659.8" y1="1153.7" x2="665.8" y2="1153.7" stroke="#0c0706" stroke-width="2.6"/>
<text x="626.6" y="1160.0" font-size="17.6" textLength="24.5" lengthAdjust="spacingAndGlyphs">0.5</text>
<line x1="659.8" y1="1112.3" x2="665.8" y2="1112.3" stroke="#0c0706" stroke-width="2.6"/>
<text x="626.6" y="1118.6" font-size="17.6" textLength="24.5" lengthAdjust="spacingAndGlyphs">1.0</text>
<line x1="659.8" y1="1070.9" x2="665.8" y2="1070.9" stroke="#0c0706" stroke-width="2.6"/>
<text x="626.6" y="1077.2" font-size="17.6" textLength="24.5" lengthAdjust="spacingAndGlyphs">1.5</text>
<line x1="659.8" y1="1029.6" x2="665.8" y2="1029.6" stroke="#0c0706" stroke-width="2.6"/>
<text x="626.6" y="1035.9" font-size="17.6" textLength="24.5" lengthAdjust="spacingAndGlyphs">2.0</text>
<line x1="664.3" y1="1195.0" x2="664.3" y2="1201.0" stroke="#0c0706" stroke-width="2.4"/>
<line x1="683.6" y1="1195.0" x2="683.6" y2="1201.0" stroke="#0c0706" stroke-width="2.4"/>
<line x1="703.0" y1="1195.0" x2="703.0" y2="1201.0" stroke="#0c0706" stroke-width="2.4"/>
<line x1="722.3" y1="1195.0" x2="722.3" y2="1201.0" stroke="#0c0706" stroke-width="2.4"/>
<line x1="741.7" y1="1195.0" x2="741.7" y2="1201.0" stroke="#0c0706" stroke-width="2.4"/>
<line x1="761.0" y1="1195.0" x2="761.0" y2="1201.0" stroke="#0c0706" stroke-width="2.4"/>
<line x1="780.3" y1="1195.0" x2="780.3" y2="1201.0" stroke="#0c0706" stroke-width="2.4"/>
<line x1="799.7" y1="1195.0" x2="799.7" y2="1201.0" stroke="#0c0706" stroke-width="2.4"/>
<line x1="819.0" y1="1195.0" x2="819.0" y2="1201.0" stroke="#0c0706" stroke-width="2.4"/>
<line x1="838.4" y1="1195.0" x2="838.4" y2="1201.0" stroke="#0c0706" stroke-width="2.4"/>
<line x1="857.7" y1="1195.0" x2="857.7" y2="1201.0" stroke="#0c0706" stroke-width="2.4"/>
<line x1="877.0" y1="1195.0" x2="877.0" y2="1201.0" stroke="#0c0706" stroke-width="2.4"/>
<line x1="896.4" y1="1195.0" x2="896.4" y2="1201.0" stroke="#0c0706" stroke-width="2.4"/>
<line x1="915.7" y1="1195.0" x2="915.7" y2="1201.0" stroke="#0c0706" stroke-width="2.4"/>
<text transform="translate(620.0 1160.9) rotate(-90)" font-size="17" textLength="102.7" lengthAdjust="spacingAndGlyphs">Absorbance</text>
<path d="M690.6 1029.6 L692.4 1049.7 L695.1 1073.8 L697.8 1095.2 L701.3 1119.3 L705.0 1140.8 L708.5 1156.8 L712.5 1171.6 L716.5 1182.3 L720.6 1189.0 L724.6 1193.0 L728.6 1194.9 L730.5 1193.0 L732.1 1183.6 L734.0 1171.6 L736.1 1163.5 L738.5 1160.8 L741.2 1162.2 L744.7 1168.9 L748.7 1176.9 L753.3 1184.2 L757.5 1190.3 L760.2 1193.0 L762.6 1189.0 L764.8 1183.6 L766.1 1179.6 L766.6 1183.6 L767.7 1178.3 L768.3 1155.5 L769.1 1178.3 L771.5 1178.8 L774.7 1178.3 L775.8 1160.8 L776.6 1176.9 L779.0 1174.2 L780.8 1168.9 L782.2 1156.8 L783.5 1130.0 L784.9 1087.2 L785.9 1029.6" fill="none" stroke="#0c0706" stroke-width="2.8" stroke-linejoin="round" stroke-linecap="round"/>
<path d="M802.8 1029.6 L805.0 1049.7 L807.6 1073.8 L810.9 1097.9 L814.3 1119.3 L817.6 1135.4 L821.0 1146.1 L823.7 1148.3 L826.4 1143.4 L829.1 1141.6 L832.6 1144.8 L835.8 1150.1 L839.8 1158.2 L843.8 1165.4 L846.5 1167.5 L848.6 1163.5 L850.5 1155.5 L852.7 1148.8 L855.3 1146.1 L858.5 1148.3 L861.8 1151.5 L863.9 1147.5 L865.8 1136.7 L867.9 1130.6 L870.6 1133.3 L873.3 1137.5 L876.0 1134.1 L878.1 1134.1 L880.0 1140.8 L882.1 1148.8 L885.3 1154.7 L889.4 1157.4 L893.4 1159.5 L896.1 1160.0 L897.4 1158.2 L900.1 1159.5 L904.1 1160.8 L908.6 1162.7" fill="none" stroke="#0c0706" stroke-width="2.9" stroke-linejoin="round" stroke-linecap="round"/>
<text x="705.7" y="1219.8" font-size="17.2" textLength="10.5" lengthAdjust="spacingAndGlyphs">1</text>
<text x="726.4" y="1219.8" font-size="17.2" textLength="10.5" lengthAdjust="spacingAndGlyphs">2</text>
<text x="744.8" y="1219.8" font-size="17.2" textLength="10.5" lengthAdjust="spacingAndGlyphs">3</text>
<text x="763.6" y="1219.8" font-size="17.2" textLength="10.5" lengthAdjust="spacingAndGlyphs">4</text>
<text x="782.2" y="1219.8" font-size="17.2" textLength="10.5" lengthAdjust="spacingAndGlyphs">5</text>
<text x="804.2" y="1219.8" font-size="17.2" textLength="10.5" lengthAdjust="spacingAndGlyphs">6</text>
<text x="823.8" y="1219.8" font-size="17.2" textLength="10.5" lengthAdjust="spacingAndGlyphs">7</text>
<text x="843.1" y="1219.8" font-size="17.2" textLength="10.5" lengthAdjust="spacingAndGlyphs">8</text>
<text x="860.2" y="1219.8" font-size="17.2" textLength="10.5" lengthAdjust="spacingAndGlyphs">9</text>
<text x="870.4" y="1219.8" font-size="17.2" textLength="21.0" lengthAdjust="spacingAndGlyphs">10</text>
<text x="892.7" y="1219.8" font-size="17.2" textLength="19.6" lengthAdjust="spacingAndGlyphs">11</text>
<line x1="730.5" y1="1224.2" x2="754.9" y2="1224.2" stroke="#0c0706" stroke-width="2"/>
<line x1="764.8" y1="1224.2" x2="776.3" y2="1224.2" stroke="#0c0706" stroke-width="2"/>
<line x1="780.9" y1="1224.2" x2="819.2" y2="1224.2" stroke="#0c0706" stroke-width="2"/>
<line x1="824.5" y1="1224.2" x2="914.8" y2="1224.2" stroke="#0c0706" stroke-width="2"/>
<text x="631.2" y="1241.2" font-size="19" textLength="68.6" lengthAdjust="spacingAndGlyphs">Fraction</text>
<text x="724.3" y="1241.2" font-size="16.4" textLength="28.6" lengthAdjust="spacingAndGlyphs">40S</text>
<text x="755.9" y="1241.2" font-size="16.4" textLength="29.1" lengthAdjust="spacingAndGlyphs">60S</text>
<text x="789.1" y="1241.2" font-size="16.4" textLength="28.1" lengthAdjust="spacingAndGlyphs">80S</text>
<text x="826.7" y="1237.7" font-size="16.6" textLength="77.9" lengthAdjust="spacingAndGlyphs">polysomes</text>
<line x1="976.3" y1="1028.3" x2="976.3" y2="1195.6" stroke="#0c0706" stroke-width="3.8"/>
<line x1="970.3" y1="1194.2" x2="1227.5" y2="1194.2" stroke="#0c0706" stroke-width="2.8"/>
<line x1="970.3" y1="1194.2" x2="976.3" y2="1194.2" stroke="#0c0706" stroke-width="2.6"/>
<text x="936.6" y="1200.5" font-size="17.6" textLength="24.5" lengthAdjust="spacingAndGlyphs">0.0</text>
<line x1="970.3" y1="1153.0" x2="976.3" y2="1153.0" stroke="#0c0706" stroke-width="2.6"/>
<text x="936.6" y="1159.3" font-size="17.6" textLength="24.5" lengthAdjust="spacingAndGlyphs">0.5</text>
<line x1="970.3" y1="1111.9" x2="976.3" y2="1111.9" stroke="#0c0706" stroke-width="2.6"/>
<text x="936.6" y="1118.2" font-size="17.6" textLength="24.5" lengthAdjust="spacingAndGlyphs">1.0</text>
<line x1="970.3" y1="1070.8" x2="976.3" y2="1070.8" stroke="#0c0706" stroke-width="2.6"/>
<text x="936.6" y="1077.0" font-size="17.6" textLength="24.5" lengthAdjust="spacingAndGlyphs">1.5</text>
<line x1="970.3" y1="1029.6" x2="976.3" y2="1029.6" stroke="#0c0706" stroke-width="2.6"/>
<text x="936.6" y="1035.9" font-size="17.6" textLength="24.5" lengthAdjust="spacingAndGlyphs">2.0</text>
<line x1="974.8" y1="1194.2" x2="974.8" y2="1200.2" stroke="#0c0706" stroke-width="2.4"/>
<line x1="994.1" y1="1194.2" x2="994.1" y2="1200.2" stroke="#0c0706" stroke-width="2.4"/>
<line x1="1013.5" y1="1194.2" x2="1013.5" y2="1200.2" stroke="#0c0706" stroke-width="2.4"/>
<line x1="1032.8" y1="1194.2" x2="1032.8" y2="1200.2" stroke="#0c0706" stroke-width="2.4"/>
<line x1="1052.2" y1="1194.2" x2="1052.2" y2="1200.2" stroke="#0c0706" stroke-width="2.4"/>
<line x1="1071.5" y1="1194.2" x2="1071.5" y2="1200.2" stroke="#0c0706" stroke-width="2.4"/>
<line x1="1090.8" y1="1194.2" x2="1090.8" y2="1200.2" stroke="#0c0706" stroke-width="2.4"/>
<line x1="1110.2" y1="1194.2" x2="1110.2" y2="1200.2" stroke="#0c0706" stroke-width="2.4"/>
<line x1="1129.5" y1="1194.2" x2="1129.5" y2="1200.2" stroke="#0c0706" stroke-width="2.4"/>
<line x1="1148.9" y1="1194.2" x2="1148.9" y2="1200.2" stroke="#0c0706" stroke-width="2.4"/>
<line x1="1168.2" y1="1194.2" x2="1168.2" y2="1200.2" stroke="#0c0706" stroke-width="2.4"/>
<line x1="1187.5" y1="1194.2" x2="1187.5" y2="1200.2" stroke="#0c0706" stroke-width="2.4"/>
<line x1="1206.9" y1="1194.2" x2="1206.9" y2="1200.2" stroke="#0c0706" stroke-width="2.4"/>
<line x1="1226.2" y1="1194.2" x2="1226.2" y2="1200.2" stroke="#0c0706" stroke-width="2.4"/>
<text transform="translate(930.1 1159.0) rotate(-90)" font-size="17" textLength="100.8" lengthAdjust="spacingAndGlyphs">Absorbance</text>
<path d="M1001.9 1029.6 L1003.8 1052.3 L1005.9 1079.1 L1008.6 1105.9 L1011.8 1130.0 L1015.3 1148.8 L1019.3 1164.9 L1021.2 1168.9 L1023.9 1175.6 L1027.9 1182.3 L1032.7 1185.8 L1037.3 1187.6 L1041.3 1189.0 L1043.2 1185.0 L1045.3 1174.2 L1047.4 1164.9 L1049.9 1160.0 L1052.0 1159.5 L1054.7 1162.7 L1057.9 1170.2 L1061.4 1176.9 L1065.4 1182.3 L1069.4 1186.3 L1072.1 1187.1 L1074.2 1185.0 L1076.1 1180.4 L1078.8 1176.1 L1081.5 1174.2 L1085.5 1175.0 L1089.5 1174.2 L1092.2 1172.4 L1093.8 1164.9 L1094.9 1140.8 L1095.9 1100.6 L1097.0 1060.4 L1098.1 1029.6" fill="none" stroke="#0c0706" stroke-width="2.8" stroke-linejoin="round" stroke-linecap="round"/>
<path d="M1112.3 1029.6 L1114.2 1047.0 L1116.8 1071.1 L1120.3 1097.9 L1124.3 1122.0 L1128.4 1143.4 L1131.8 1155.5 L1135.1 1160.0 L1137.7 1156.8 L1140.4 1150.1 L1143.1 1147.5 L1145.8 1149.3 L1149.8 1156.8 L1153.8 1164.9 L1157.0 1170.2 L1159.2 1171.6 L1161.3 1167.5 L1163.2 1158.2 L1165.1 1150.1 L1167.2 1148.8 L1169.1 1146.1 L1171.2 1151.5 L1173.9 1156.8 L1175.8 1158.2 L1177.1 1151.5 L1177.9 1132.7 L1179.5 1133.3 L1180.6 1140.8 L1181.9 1130.0 L1182.7 1097.9 L1183.6 1132.7 L1184.9 1140.8 L1186.0 1136.7 L1187.3 1142.1 L1188.6 1122.0 L1189.4 1139.4 L1190.5 1130.0 L1191.9 1143.4 L1193.5 1151.5 L1195.3 1152.8 L1197.2 1158.2 L1200.7 1161.7 L1204.7 1162.7 L1208.7 1163.8 L1212.8 1164.3 L1216.0 1164.9" fill="none" stroke="#0c0706" stroke-width="2.9" stroke-linejoin="round" stroke-linecap="round"/>
<text x="1015.7" y="1217.9" font-size="17.2" textLength="10.5" lengthAdjust="spacingAndGlyphs">1</text>
<text x="1036.3" y="1217.9" font-size="17.2" textLength="10.5" lengthAdjust="spacingAndGlyphs">2</text>
<text x="1054.8" y="1217.9" font-size="17.2" textLength="10.5" lengthAdjust="spacingAndGlyphs">3</text>
<text x="1073.6" y="1217.9" font-size="17.2" textLength="10.5" lengthAdjust="spacingAndGlyphs">4</text>
<text x="1092.2" y="1217.9" font-size="17.2" textLength="10.5" lengthAdjust="spacingAndGlyphs">5</text>
<text x="1114.2" y="1217.9" font-size="17.2" textLength="10.5" lengthAdjust="spacingAndGlyphs">6</text>
<text x="1133.8" y="1217.9" font-size="17.2" textLength="10.5" lengthAdjust="spacingAndGlyphs">7</text>
<text x="1153.1" y="1217.9" font-size="17.2" textLength="10.5" lengthAdjust="spacingAndGlyphs">8</text>
<text x="1170.2" y="1217.9" font-size="17.2" textLength="10.5" lengthAdjust="spacingAndGlyphs">9</text>
<text x="1180.4" y="1217.9" font-size="17.2" textLength="21.0" lengthAdjust="spacingAndGlyphs">10</text>
<text x="1202.7" y="1217.9" font-size="17.2" textLength="19.6" lengthAdjust="spacingAndGlyphs">11</text>
<line x1="1040.5" y1="1221.6" x2="1064.9" y2="1221.6" stroke="#0c0706" stroke-width="2"/>
<line x1="1074.8" y1="1221.6" x2="1086.3" y2="1221.6" stroke="#0c0706" stroke-width="2"/>
<line x1="1090.9" y1="1221.6" x2="1129.2" y2="1221.6" stroke="#0c0706" stroke-width="2"/>
<line x1="1134.5" y1="1221.6" x2="1224.8" y2="1221.6" stroke="#0c0706" stroke-width="2"/>
<text x="1034.3" y="1239.4" font-size="16.4" textLength="28.6" lengthAdjust="spacingAndGlyphs">40S</text>
<text x="1065.9" y="1239.4" font-size="16.4" textLength="29.1" lengthAdjust="spacingAndGlyphs">60S</text>
<text x="1101.8" y="1239.4" font-size="16.4" textLength="28.7" lengthAdjust="spacingAndGlyphs">80S</text>
<text x="1140.0" y="1235.9" font-size="16.6" textLength="77.3" lengthAdjust="spacingAndGlyphs">polysomes</text>
<text x="769.2" y="1287.0" font-size="19.4" textLength="141.5" lengthAdjust="spacingAndGlyphs">%  <tspan font-style="italic">FLT3</tspan> mRNA</text>
<line x1="673.0" y1="1279.3" x2="673.0" y2="1527.9" stroke="#0c0706" stroke-width="2.9"/>
<line x1="664.7" y1="1526.4" x2="1043.0" y2="1526.4" stroke="#0c0706" stroke-width="2.9"/>
<line x1="664.7" y1="1526.4" x2="673.0" y2="1526.4" stroke="#0c0706" stroke-width="2.9"/>
<text x="652.9" y="1533.3" font-size="19.4" textLength="10.8" lengthAdjust="spacingAndGlyphs">0</text>
<line x1="664.7" y1="1465.0" x2="673.0" y2="1465.0" stroke="#0c0706" stroke-width="2.9"/>
<text x="642.1" y="1471.9" font-size="19.4" textLength="21.6" lengthAdjust="spacingAndGlyphs">10</text>
<line x1="664.7" y1="1403.6" x2="673.0" y2="1403.6" stroke="#0c0706" stroke-width="2.9"/>
<text x="642.1" y="1410.5" font-size="19.4" textLength="21.6" lengthAdjust="spacingAndGlyphs">20</text>
<line x1="664.7" y1="1342.2" x2="673.0" y2="1342.2" stroke="#0c0706" stroke-width="2.9"/>
<text x="642.1" y="1349.1" font-size="19.4" textLength="21.6" lengthAdjust="spacingAndGlyphs">30</text>
<line x1="664.7" y1="1280.8" x2="673.0" y2="1280.8" stroke="#0c0706" stroke-width="2.9"/>
<text x="642.1" y="1287.7" font-size="19.4" textLength="21.6" lengthAdjust="spacingAndGlyphs">40</text>
<line x1="673.0" y1="1526.4" x2="673.0" y2="1533.9" stroke="#0c0706" stroke-width="2.9"/>
<text x="667.6" y="1554.0" font-size="19.4" textLength="10.8" lengthAdjust="spacingAndGlyphs">0</text>
<line x1="706.5" y1="1526.4" x2="706.5" y2="1533.9" stroke="#0c0706" stroke-width="2.9"/>
<text x="700.8" y="1554.0" font-size="19.4" textLength="10.8" lengthAdjust="spacingAndGlyphs">1</text>
<line x1="740.0" y1="1526.4" x2="740.0" y2="1533.9" stroke="#0c0706" stroke-width="2.9"/>
<text x="734.6" y="1554.0" font-size="19.4" textLength="10.8" lengthAdjust="spacingAndGlyphs">2</text>
<line x1="773.5" y1="1526.4" x2="773.5" y2="1533.9" stroke="#0c0706" stroke-width="2.9"/>
<text x="768.2" y="1554.0" font-size="19.4" textLength="10.8" lengthAdjust="spacingAndGlyphs">3</text>
<line x1="807.0" y1="1526.4" x2="807.0" y2="1533.9" stroke="#0c0706" stroke-width="2.9"/>
<text x="801.7" y="1554.0" font-size="19.4" textLength="10.8" lengthAdjust="spacingAndGlyphs">4</text>
<line x1="840.5" y1="1526.4" x2="840.5" y2="1533.9" stroke="#0c0706" stroke-width="2.9"/>
<text x="835.2" y="1554.0" font-size="19.4" textLength="10.8" lengthAdjust="spacingAndGlyphs">5</text>
<line x1="874.1" y1="1526.4" x2="874.1" y2="1533.9" stroke="#0c0706" stroke-width="2.9"/>
<text x="868.6" y="1554.0" font-size="19.4" textLength="10.8" lengthAdjust="spacingAndGlyphs">6</text>
<line x1="907.6" y1="1526.4" x2="907.6" y2="1533.9" stroke="#0c0706" stroke-width="2.9"/>
<text x="902.1" y="1554.0" font-size="19.4" textLength="10.8" lengthAdjust="spacingAndGlyphs">7</text>
<line x1="941.1" y1="1526.4" x2="941.1" y2="1533.9" stroke="#0c0706" stroke-width="2.9"/>
<text x="935.7" y="1554.0" font-size="19.4" textLength="10.8" lengthAdjust="spacingAndGlyphs">8</text>
<line x1="974.6" y1="1526.4" x2="974.6" y2="1533.9" stroke="#0c0706" stroke-width="2.9"/>
<text x="969.2" y="1554.0" font-size="19.4" textLength="10.8" lengthAdjust="spacingAndGlyphs">9</text>
<line x1="1008.1" y1="1526.4" x2="1008.1" y2="1533.9" stroke="#0c0706" stroke-width="2.9"/>
<text x="996.9" y="1554.0" font-size="19.4" textLength="21.6" lengthAdjust="spacingAndGlyphs">10</text>
<line x1="1041.6" y1="1526.4" x2="1041.6" y2="1533.9" stroke="#0c0706" stroke-width="2.9"/>
<text x="1031.3" y="1554.0" font-size="19.4" textLength="20.1" lengthAdjust="spacingAndGlyphs">11</text>
<text x="786.2" y="1575.5" font-size="19.6" textLength="146.4" lengthAdjust="spacingAndGlyphs">Fraction number</text>
<line x1="941.1" y1="1460.4" x2="941.1" y2="1465.9" stroke="#0c0706" stroke-width="2.2"/>
<line x1="936.9" y1="1460.4" x2="945.3" y2="1460.4" stroke="#0c0706" stroke-width="2.2"/>
<line x1="936.9" y1="1465.9" x2="945.3" y2="1465.9" stroke="#0c0706" stroke-width="2.2"/>
<line x1="974.6" y1="1442.3" x2="974.6" y2="1447.2" stroke="#0c0706" stroke-width="2.2"/>
<line x1="970.4" y1="1442.3" x2="978.8" y2="1442.3" stroke="#0c0706" stroke-width="2.2"/>
<line x1="970.4" y1="1447.2" x2="978.8" y2="1447.2" stroke="#0c0706" stroke-width="2.2"/>
<line x1="1008.1" y1="1310.6" x2="1008.1" y2="1319.8" stroke="#0c0706" stroke-width="2.2"/>
<line x1="1003.9" y1="1310.6" x2="1012.3" y2="1310.6" stroke="#0c0706" stroke-width="2.2"/>
<line x1="1003.9" y1="1319.8" x2="1012.3" y2="1319.8" stroke="#0c0706" stroke-width="2.2"/>
<line x1="1041.6" y1="1421.1" x2="1041.6" y2="1430.3" stroke="#0c0706" stroke-width="2.2"/>
<line x1="1037.4" y1="1421.1" x2="1045.8" y2="1421.1" stroke="#0c0706" stroke-width="2.2"/>
<line x1="1037.4" y1="1430.3" x2="1045.8" y2="1430.3" stroke="#0c0706" stroke-width="2.2"/>
<path d="M706.5 1516.7 L740.0 1509.8 L773.5 1515.0 L807.0 1516.7 L840.5 1518.4 L874.1 1495.2 L907.6 1449.7 L941.1 1463.2 L974.6 1444.7 L1008.1 1315.2 L1041.6 1425.7" fill="none" stroke="#0c0706" stroke-width="2.6" stroke-linejoin="round" stroke-linecap="round"/>
<circle cx="706.5" cy="1516.7" r="3.6" fill="#0c0706"/>
<circle cx="740.0" cy="1509.8" r="3.6" fill="#0c0706"/>
<circle cx="773.5" cy="1515.0" r="3.6" fill="#0c0706"/>
<circle cx="807.0" cy="1516.7" r="3.6" fill="#0c0706"/>
<circle cx="840.5" cy="1518.4" r="3.6" fill="#0c0706"/>
<circle cx="874.1" cy="1495.2" r="3.6" fill="#0c0706"/>
<circle cx="907.6" cy="1449.7" r="3.6" fill="#0c0706"/>
<circle cx="941.1" cy="1463.2" r="3.6" fill="#0c0706"/>
<circle cx="974.6" cy="1444.7" r="3.6" fill="#0c0706"/>
<circle cx="1008.1" cy="1315.2" r="3.6" fill="#0c0706"/>
<circle cx="1041.6" cy="1425.7" r="3.6" fill="#0c0706"/>
<line x1="840.5" y1="1495.7" x2="840.5" y2="1500.6" stroke="#e84646" stroke-width="2.2"/>
<line x1="836.3" y1="1495.7" x2="844.7" y2="1495.7" stroke="#e84646" stroke-width="2.2"/>
<line x1="836.3" y1="1500.6" x2="844.7" y2="1500.6" stroke="#e84646" stroke-width="2.2"/>
<line x1="874.1" y1="1438.6" x2="874.1" y2="1452.1" stroke="#e84646" stroke-width="2.2"/>
<line x1="869.9" y1="1438.6" x2="878.3" y2="1438.6" stroke="#e84646" stroke-width="2.2"/>
<line x1="869.9" y1="1452.1" x2="878.3" y2="1452.1" stroke="#e84646" stroke-width="2.2"/>
<line x1="907.6" y1="1393.5" x2="907.6" y2="1410.0" stroke="#e84646" stroke-width="2.2"/>
<line x1="903.4" y1="1393.5" x2="911.8" y2="1393.5" stroke="#e84646" stroke-width="2.2"/>
<line x1="903.4" y1="1410.0" x2="911.8" y2="1410.0" stroke="#e84646" stroke-width="2.2"/>
<line x1="941.1" y1="1416.2" x2="941.1" y2="1435.2" stroke="#e84646" stroke-width="2.2"/>
<line x1="936.9" y1="1416.2" x2="945.3" y2="1416.2" stroke="#e84646" stroke-width="2.2"/>
<line x1="936.9" y1="1435.2" x2="945.3" y2="1435.2" stroke="#e84646" stroke-width="2.2"/>
<line x1="974.6" y1="1429.4" x2="974.6" y2="1438.0" stroke="#e84646" stroke-width="2.2"/>
<line x1="970.4" y1="1429.4" x2="978.8" y2="1429.4" stroke="#e84646" stroke-width="2.2"/>
<line x1="970.4" y1="1438.0" x2="978.8" y2="1438.0" stroke="#e84646" stroke-width="2.2"/>
<line x1="1008.1" y1="1422.6" x2="1008.1" y2="1434.9" stroke="#e84646" stroke-width="2.2"/>
<line x1="1003.9" y1="1422.6" x2="1012.3" y2="1422.6" stroke="#e84646" stroke-width="2.2"/>
<line x1="1003.9" y1="1434.9" x2="1012.3" y2="1434.9" stroke="#e84646" stroke-width="2.2"/>
<line x1="1041.6" y1="1482.2" x2="1041.6" y2="1487.1" stroke="#e84646" stroke-width="2.2"/>
<line x1="1037.4" y1="1482.2" x2="1045.8" y2="1482.2" stroke="#e84646" stroke-width="2.2"/>
<line x1="1037.4" y1="1487.1" x2="1045.8" y2="1487.1" stroke="#e84646" stroke-width="2.2"/>
<path d="M706.5 1516.7 L740.0 1513.5 L773.5 1517.8 L807.0 1516.0 L840.5 1498.2 L874.1 1445.4 L907.6 1401.8 L941.1 1425.7 L974.6 1433.7 L1008.1 1428.8 L1041.6 1484.6" fill="none" stroke="#e84646" stroke-width="2.6" stroke-linejoin="round" stroke-linecap="round"/>
<rect x="703.0" y="1513.2" width="7.0" height="7.0" fill="#e84646"/>
<rect x="736.5" y="1510.0" width="7.0" height="7.0" fill="#e84646"/>
<rect x="770.0" y="1514.3" width="7.0" height="7.0" fill="#e84646"/>
<rect x="803.5" y="1512.5" width="7.0" height="7.0" fill="#e84646"/>
<rect x="837.0" y="1494.7" width="7.0" height="7.0" fill="#e84646"/>
<rect x="870.6" y="1441.9" width="7.0" height="7.0" fill="#e84646"/>
<rect x="904.1" y="1398.3" width="7.0" height="7.0" fill="#e84646"/>
<rect x="937.6" y="1422.2" width="7.0" height="7.0" fill="#e84646"/>
<rect x="971.1" y="1430.2" width="7.0" height="7.0" fill="#e84646"/>
<rect x="1004.6" y="1425.3" width="7.0" height="7.0" fill="#e84646"/>
<rect x="1038.1" y="1481.1" width="7.0" height="7.0" fill="#e84646"/>
<line x1="701.1" y1="1322.4" x2="728.8" y2="1322.4" stroke="#0c0706" stroke-width="2.6"/>
<circle cx="715" cy="1322.4" r="3.6" fill="#0c0706"/>
<text x="742.2" y="1328.7" font-size="19.4" textLength="54.9" lengthAdjust="spacingAndGlyphs">sh-NC</text>
<line x1="701.1" y1="1343.2" x2="728.8" y2="1343.2" stroke="#e84646" stroke-width="2.6"/>
<rect x="711.5" y="1339.7" width="7.0" height="7.0" fill="#e84646"/>
<text x="742.2" y="1349.5" font-size="19.4" textLength="125.5" lengthAdjust="spacingAndGlyphs">sh-circMYBL2</text>
</svg>
</body></html>
